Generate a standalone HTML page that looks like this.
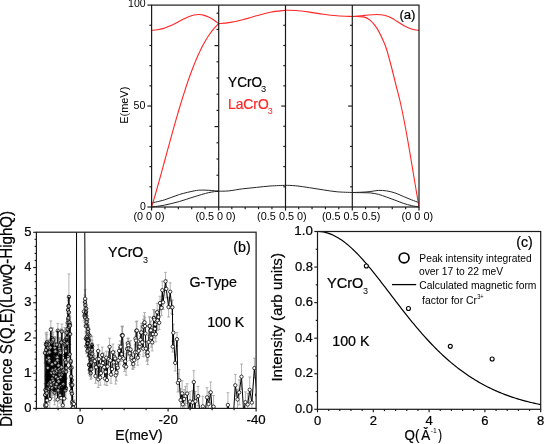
<!DOCTYPE html>
<html><head><meta charset="utf-8"><title>Figure</title>
<style>html,body{margin:0;padding:0;background:#fff;width:544px;height:444px;overflow:hidden}</style>
</head><body>
<svg width="544" height="444" viewBox="0 0 544 444" style="display:block;will-change:transform">
<defs>
<clipPath id="clipA"><rect x="151.6" y="5.1" width="267.40" height="202.90"/></clipPath>
<clipPath id="clipB"><rect x="36.4" y="232.2" width="219.70" height="176.20"/></clipPath>
</defs>
<rect width="544" height="444" fill="#fff"/>
<g font-family='"Liberation Sans", sans-serif' style="font-kerning:none">
<g clip-path="url(#clipA)">
<path d="M151.60,203.00 C153.78,202.47 160.07,201.22 164.70,199.80 C169.33,198.38 174.50,195.98 179.40,194.50 C184.30,193.02 190.42,191.63 194.10,190.90 C197.78,190.17 199.05,190.20 201.50,190.10 C203.95,190.00 205.93,190.12 208.80,190.30 C211.67,190.48 217.05,191.05 218.70,191.20" fill="none" stroke="#262626" stroke-width="1.0" />
<path d="M151.60,207.00 C153.78,206.68 160.07,206.02 164.70,205.10 C169.33,204.18 174.50,202.88 179.40,201.50 C184.30,200.12 189.20,198.28 194.10,196.80 C199.00,195.32 204.70,193.53 208.80,192.60 C212.90,191.67 217.05,191.43 218.70,191.20" fill="none" stroke="#262626" stroke-width="1.0" />
<path d="M218.70,191.20 C220.38,191.15 224.82,191.30 228.80,190.90 C232.78,190.50 238.00,189.38 242.60,188.80 C247.20,188.22 251.80,187.87 256.40,187.40 C261.00,186.93 265.35,186.35 270.20,186.00 C275.05,185.65 282.95,185.42 285.50,185.30" fill="none" stroke="#262626" stroke-width="1.0" />
<path d="M285.50,185.30 C287.22,185.38 291.78,185.40 295.80,185.80 C299.82,186.20 305.00,187.02 309.60,187.70 C314.20,188.38 318.80,189.22 323.40,189.90 C328.00,190.58 332.38,191.37 337.20,191.80 C342.02,192.23 349.78,192.38 352.30,192.50" fill="none" stroke="#262626" stroke-width="1.0" />
<path d="M352.30,192.50 C353.88,192.45 358.83,192.35 361.80,192.20 C364.77,192.05 367.35,191.90 370.10,191.60 C372.85,191.30 375.55,190.52 378.30,190.40 C381.05,190.28 383.83,190.48 386.60,190.90 C389.37,191.32 392.13,191.98 394.90,192.90 C397.67,193.82 400.45,195.25 403.20,196.40 C405.95,197.55 408.77,198.77 411.40,199.80 C414.03,200.83 417.73,202.13 419.00,202.60" fill="none" stroke="#262626" stroke-width="1.0" />
<path d="M352.30,192.50 C353.88,192.53 358.83,192.63 361.80,192.70 C364.77,192.77 367.35,192.63 370.10,192.90 C372.85,193.17 375.55,193.60 378.30,194.30 C381.05,195.00 383.83,196.13 386.60,197.10 C389.37,198.07 392.13,199.07 394.90,200.10 C397.67,201.13 400.45,202.38 403.20,203.30 C405.95,204.22 408.77,204.98 411.40,205.60 C414.03,206.22 417.73,206.77 419.00,207.00" fill="none" stroke="#262626" stroke-width="1.0" />
<path d="M151.80,30.40 C152.67,30.30 155.15,30.10 157.00,29.80 C158.85,29.50 160.90,29.18 162.90,28.60 C164.90,28.02 166.87,27.20 169.00,26.30 C171.13,25.40 173.53,24.28 175.70,23.20 C177.87,22.12 179.85,20.88 182.00,19.80 C184.15,18.72 186.60,17.50 188.60,16.70 C190.60,15.90 192.28,15.37 194.00,15.00 C195.72,14.63 197.32,14.48 198.90,14.50 C200.48,14.52 202.00,14.73 203.50,15.10 C205.00,15.47 206.32,15.97 207.90,16.70 C209.48,17.43 211.20,18.33 213.00,19.50 C214.80,20.67 217.75,23.00 218.70,23.70" fill="none" stroke="#ff2626" stroke-width="1.1" />
<path d="M151.60,207.00 C151.89,206.05 152.75,203.24 153.32,201.32 C153.89,199.40 154.47,197.45 155.04,195.48 C155.61,193.50 156.19,191.50 156.76,189.48 C157.34,187.47 157.91,185.43 158.48,183.38 C159.06,181.32 159.63,179.25 160.20,177.17 C160.78,175.10 161.35,173.00 161.92,170.91 C162.50,168.81 163.07,166.70 163.64,164.59 C164.22,162.48 164.79,160.37 165.36,158.25 C165.94,156.14 166.51,154.02 167.08,151.91 C167.66,149.80 168.23,147.69 168.81,145.59 C169.38,143.49 169.95,141.39 170.53,139.31 C171.10,137.22 171.67,135.14 172.25,133.08 C172.82,131.01 173.39,128.96 173.97,126.92 C174.54,124.88 175.11,122.85 175.69,120.85 C176.26,118.84 176.83,116.85 177.41,114.88 C177.98,112.91 178.55,110.96 179.13,109.03 C179.70,107.10 180.28,105.19 180.85,103.30 C181.42,101.42 182.00,99.56 182.57,97.72 C183.14,95.89 183.72,94.08 184.29,92.30 C184.86,90.51 185.44,88.76 186.01,87.03 C186.58,85.30 187.16,83.60 187.73,81.94 C188.30,80.27 188.88,78.63 189.45,77.02 C190.02,75.41 190.60,73.84 191.17,72.29 C191.75,70.75 192.32,69.24 192.89,67.76 C193.47,66.28 194.04,64.83 194.61,63.42 C195.19,62.00 195.76,60.62 196.33,59.28 C196.91,57.93 197.48,56.62 198.05,55.34 C198.63,54.07 199.20,52.82 199.77,51.61 C200.35,50.40 200.92,49.23 201.49,48.09 C202.07,46.95 202.64,45.85 203.22,44.77 C203.79,43.70 204.36,42.67 204.94,41.66 C205.51,40.66 206.08,39.69 206.66,38.76 C207.23,37.82 207.80,36.92 208.38,36.05 C208.95,35.18 209.52,34.34 210.10,33.54 C210.67,32.73 211.24,31.96 211.82,31.21 C212.39,30.47 212.96,29.76 213.54,29.08 C214.11,28.39 214.69,27.74 215.26,27.12 C215.83,26.49 216.41,25.90 216.98,25.33 C217.55,24.76 218.41,23.97 218.70,23.70" fill="none" stroke="#ff2626" stroke-width="1.1" />
<path d="M218.70,23.70 C220.38,23.52 224.82,23.27 228.80,22.60 C232.78,21.93 238.00,20.83 242.60,19.70 C247.20,18.57 251.80,17.05 256.40,15.80 C261.00,14.55 265.35,13.12 270.20,12.20 C275.05,11.28 282.95,10.62 285.50,10.30" fill="none" stroke="#ff2626" stroke-width="1.1" />
<path d="M285.50,10.30 C287.22,10.33 291.78,10.20 295.80,10.50 C299.82,10.80 305.00,11.48 309.60,12.10 C314.20,12.72 318.80,13.60 323.40,14.20 C328.00,14.80 332.38,15.32 337.20,15.70 C342.02,16.08 349.78,16.37 352.30,16.50" fill="none" stroke="#ff2626" stroke-width="1.1" />
<path d="M352.30,16.50 C353.87,16.37 359.08,15.95 361.70,15.70 C364.32,15.45 365.45,15.20 368.00,15.00 C370.55,14.80 374.30,14.47 377.00,14.50 C379.70,14.53 382.10,14.78 384.20,15.20 C386.30,15.62 387.87,16.22 389.60,17.00 C391.33,17.78 392.18,18.43 394.60,19.90 C397.02,21.37 401.17,24.25 404.10,25.80 C407.03,27.35 409.72,28.43 412.20,29.20 C414.68,29.97 417.87,30.20 419.00,30.40" fill="none" stroke="#ff2626" stroke-width="1.1" />
<path d="M352.30,16.50 C354.17,16.57 360.50,16.27 363.50,16.90 C366.50,17.53 368.05,18.38 370.30,20.30 C372.55,22.22 374.75,24.80 377.00,28.40 C379.25,32.00 382.17,38.30 383.80,41.90 C385.43,45.50 385.48,45.65 386.80,50.00 C388.12,54.35 390.13,62.00 391.70,68.00 C393.27,74.00 394.70,80.00 396.20,86.00 C397.70,92.00 399.08,96.67 400.70,104.00 C402.32,111.33 404.25,121.17 405.90,130.00 C407.55,138.83 409.07,148.00 410.60,157.00 C412.13,166.00 413.70,175.70 415.10,184.00 C416.50,192.30 418.35,203.00 419.00,206.80" fill="none" stroke="#ff2626" stroke-width="1.1" />
</g>
<rect x="151.6" y="5.1" width="267.40" height="201.90" fill="none" stroke="#1a1a1a" stroke-width="1.2"/>
<line x1="218.70" y1="5.10" x2="218.70" y2="210.60" stroke="#1a1a1a" stroke-width="1.2"/>
<line x1="285.50" y1="5.10" x2="285.50" y2="210.60" stroke="#1a1a1a" stroke-width="1.2"/>
<line x1="352.30" y1="5.10" x2="352.30" y2="210.60" stroke="#1a1a1a" stroke-width="1.2"/>
<line x1="151.60" y1="207.00" x2="151.60" y2="210.60" stroke="#1a1a1a" stroke-width="1.2"/>
<line x1="419.00" y1="207.00" x2="419.00" y2="210.60" stroke="#1a1a1a" stroke-width="1.2"/>
<line x1="147.40" y1="207.00" x2="151.60" y2="207.00" stroke="#1a1a1a" stroke-width="1.15"/>
<line x1="149.40" y1="186.81" x2="151.60" y2="186.81" stroke="#1a1a1a" stroke-width="1.15"/>
<line x1="149.40" y1="166.62" x2="151.60" y2="166.62" stroke="#1a1a1a" stroke-width="1.15"/>
<line x1="149.40" y1="146.43" x2="151.60" y2="146.43" stroke="#1a1a1a" stroke-width="1.15"/>
<line x1="149.40" y1="126.24" x2="151.60" y2="126.24" stroke="#1a1a1a" stroke-width="1.15"/>
<line x1="147.40" y1="106.05" x2="151.60" y2="106.05" stroke="#1a1a1a" stroke-width="1.15"/>
<line x1="149.40" y1="85.86" x2="151.60" y2="85.86" stroke="#1a1a1a" stroke-width="1.15"/>
<line x1="149.40" y1="65.67" x2="151.60" y2="65.67" stroke="#1a1a1a" stroke-width="1.15"/>
<line x1="149.40" y1="45.48" x2="151.60" y2="45.48" stroke="#1a1a1a" stroke-width="1.15"/>
<line x1="149.40" y1="25.29" x2="151.60" y2="25.29" stroke="#1a1a1a" stroke-width="1.15"/>
<line x1="147.40" y1="5.10" x2="151.60" y2="5.10" stroke="#1a1a1a" stroke-width="1.15"/>
<line x1="283.30" y1="186.81" x2="285.50" y2="186.81" stroke="#1a1a1a" stroke-width="1.15"/>
<line x1="283.30" y1="166.62" x2="285.50" y2="166.62" stroke="#1a1a1a" stroke-width="1.15"/>
<line x1="283.30" y1="146.43" x2="285.50" y2="146.43" stroke="#1a1a1a" stroke-width="1.15"/>
<line x1="283.30" y1="126.24" x2="285.50" y2="126.24" stroke="#1a1a1a" stroke-width="1.15"/>
<line x1="281.30" y1="106.05" x2="285.50" y2="106.05" stroke="#1a1a1a" stroke-width="1.15"/>
<line x1="283.30" y1="85.86" x2="285.50" y2="85.86" stroke="#1a1a1a" stroke-width="1.15"/>
<line x1="283.30" y1="65.67" x2="285.50" y2="65.67" stroke="#1a1a1a" stroke-width="1.15"/>
<line x1="283.30" y1="45.48" x2="285.50" y2="45.48" stroke="#1a1a1a" stroke-width="1.15"/>
<line x1="283.30" y1="25.29" x2="285.50" y2="25.29" stroke="#1a1a1a" stroke-width="1.15"/>
<line x1="350.10" y1="186.81" x2="352.30" y2="186.81" stroke="#1a1a1a" stroke-width="1.15"/>
<line x1="350.10" y1="166.62" x2="352.30" y2="166.62" stroke="#1a1a1a" stroke-width="1.15"/>
<line x1="350.10" y1="146.43" x2="352.30" y2="146.43" stroke="#1a1a1a" stroke-width="1.15"/>
<line x1="350.10" y1="126.24" x2="352.30" y2="126.24" stroke="#1a1a1a" stroke-width="1.15"/>
<line x1="348.10" y1="106.05" x2="352.30" y2="106.05" stroke="#1a1a1a" stroke-width="1.15"/>
<line x1="350.10" y1="85.86" x2="352.30" y2="85.86" stroke="#1a1a1a" stroke-width="1.15"/>
<line x1="350.10" y1="65.67" x2="352.30" y2="65.67" stroke="#1a1a1a" stroke-width="1.15"/>
<line x1="350.10" y1="45.48" x2="352.30" y2="45.48" stroke="#1a1a1a" stroke-width="1.15"/>
<line x1="350.10" y1="25.29" x2="352.30" y2="25.29" stroke="#1a1a1a" stroke-width="1.15"/>
<line x1="216.50" y1="13.20" x2="218.70" y2="13.20" stroke="#1a1a1a" stroke-width="1.15"/>
<line x1="216.50" y1="29.40" x2="218.70" y2="29.40" stroke="#1a1a1a" stroke-width="1.15"/>
<line x1="214.50" y1="45.60" x2="218.70" y2="45.60" stroke="#1a1a1a" stroke-width="1.15"/>
<line x1="216.50" y1="61.80" x2="218.70" y2="61.80" stroke="#1a1a1a" stroke-width="1.15"/>
<line x1="216.50" y1="78.00" x2="218.70" y2="78.00" stroke="#1a1a1a" stroke-width="1.15"/>
<line x1="216.50" y1="94.20" x2="218.70" y2="94.20" stroke="#1a1a1a" stroke-width="1.15"/>
<line x1="216.50" y1="110.40" x2="218.70" y2="110.40" stroke="#1a1a1a" stroke-width="1.15"/>
<line x1="214.50" y1="126.60" x2="218.70" y2="126.60" stroke="#1a1a1a" stroke-width="1.15"/>
<line x1="216.50" y1="142.80" x2="218.70" y2="142.80" stroke="#1a1a1a" stroke-width="1.15"/>
<line x1="216.50" y1="159.00" x2="218.70" y2="159.00" stroke="#1a1a1a" stroke-width="1.15"/>
<line x1="216.50" y1="175.20" x2="218.70" y2="175.20" stroke="#1a1a1a" stroke-width="1.15"/>
<line x1="216.50" y1="191.40" x2="218.70" y2="191.40" stroke="#1a1a1a" stroke-width="1.15"/>
<line x1="164.97" y1="207.00" x2="164.97" y2="209.20" stroke="#1a1a1a" stroke-width="1.15"/>
<line x1="178.34" y1="207.00" x2="178.34" y2="209.20" stroke="#1a1a1a" stroke-width="1.15"/>
<line x1="191.71" y1="207.00" x2="191.71" y2="209.20" stroke="#1a1a1a" stroke-width="1.15"/>
<line x1="205.08" y1="207.00" x2="205.08" y2="209.20" stroke="#1a1a1a" stroke-width="1.15"/>
<line x1="231.82" y1="207.00" x2="231.82" y2="209.20" stroke="#1a1a1a" stroke-width="1.15"/>
<line x1="245.19" y1="207.00" x2="245.19" y2="209.20" stroke="#1a1a1a" stroke-width="1.15"/>
<line x1="258.56" y1="207.00" x2="258.56" y2="209.20" stroke="#1a1a1a" stroke-width="1.15"/>
<line x1="271.93" y1="207.00" x2="271.93" y2="209.20" stroke="#1a1a1a" stroke-width="1.15"/>
<line x1="298.67" y1="207.00" x2="298.67" y2="209.20" stroke="#1a1a1a" stroke-width="1.15"/>
<line x1="312.04" y1="207.00" x2="312.04" y2="209.20" stroke="#1a1a1a" stroke-width="1.15"/>
<line x1="325.41" y1="207.00" x2="325.41" y2="209.20" stroke="#1a1a1a" stroke-width="1.15"/>
<line x1="338.78" y1="207.00" x2="338.78" y2="209.20" stroke="#1a1a1a" stroke-width="1.15"/>
<line x1="365.52" y1="207.00" x2="365.52" y2="209.20" stroke="#1a1a1a" stroke-width="1.15"/>
<line x1="378.89" y1="207.00" x2="378.89" y2="209.20" stroke="#1a1a1a" stroke-width="1.15"/>
<line x1="392.26" y1="207.00" x2="392.26" y2="209.20" stroke="#1a1a1a" stroke-width="1.15"/>
<line x1="405.63" y1="207.00" x2="405.63" y2="209.20" stroke="#1a1a1a" stroke-width="1.15"/>
<text x="128.10" y="7.40" font-size="10.8" textLength="17.62" lengthAdjust="spacingAndGlyphs" fill="#000" >100</text>
<text x="133.47" y="109.00" font-size="10.8" textLength="11.84" lengthAdjust="spacingAndGlyphs" fill="#000" >50</text>
<text x="139.89" y="209.50" font-size="10.8" textLength="5.82" lengthAdjust="spacingAndGlyphs" fill="#000" >0</text>
<text transform="translate(128.20,123.80) rotate(-90)" x="0" y="0" font-size="10.8" textLength="37.08" lengthAdjust="spacingAndGlyphs" fill="#000" >E(meV)</text>
<text x="133.53" y="219.80" font-size="10.4" textLength="31.14" lengthAdjust="spacingAndGlyphs" fill="#000" >(0 0 0)</text>
<text x="195.43" y="219.80" font-size="10.4" textLength="40.24" lengthAdjust="spacingAndGlyphs" fill="#000" >(0.5 0 0)</text>
<text x="257.12" y="219.80" font-size="10.4" textLength="49.65" lengthAdjust="spacingAndGlyphs" fill="#000" >(0.5 0.5 0)</text>
<text x="321.93" y="219.80" font-size="10.4" textLength="58.44" lengthAdjust="spacingAndGlyphs" fill="#000" >(0.5 0.5 0.5)</text>
<text x="401.62" y="219.80" font-size="10.4" textLength="31.55" lengthAdjust="spacingAndGlyphs" fill="#000" >(0 0 0)</text>
<text x="228.10" y="86.80" font-size="14" textLength="33.95" lengthAdjust="spacingAndGlyphs" fill="#000" stroke="#000" stroke-width="0.22" >YCrO</text>
<text x="261.05" y="92.20" font-size="9" textLength="5.16" lengthAdjust="spacingAndGlyphs" fill="#000" >3</text>
<text x="227.96" y="108.80" font-size="14" textLength="40.80" lengthAdjust="spacingAndGlyphs" fill="#ff2626" stroke="#ff2626" stroke-width="0.22" >LaCrO</text>
<text x="267.75" y="113.60" font-size="9" textLength="5.04" lengthAdjust="spacingAndGlyphs" fill="#ff2626" >3</text>
<text x="399.38" y="18.60" font-size="13.5" textLength="16.14" lengthAdjust="spacingAndGlyphs" fill="#000" stroke="#000" stroke-width="0.22" >(a)</text>
<g clip-path="url(#clipB)">
<path d="M44.90,342.64V363.16M43.50,342.64h2.8M43.50,363.16h2.8M45.07,383.51V406.33M43.67,383.51h2.8M43.67,406.33h2.8M45.24,391.90V417.23M43.84,391.90h2.8M43.84,417.23h2.8M45.41,376.15V403.66M44.01,376.15h2.8M44.01,403.66h2.8M45.58,395.60V416.99M44.18,395.60h2.8M44.18,416.99h2.8M45.75,395.70V416.20M44.35,395.70h2.8M44.35,416.20h2.8M45.92,332.96V355.92M44.52,332.96h2.8M44.52,355.92h2.8M46.09,340.88V358.77M44.69,340.88h2.8M44.69,358.77h2.8M46.26,378.90V402.81M44.86,378.90h2.8M44.86,402.81h2.8M46.43,392.67V417.40M45.03,392.67h2.8M45.03,417.40h2.8M46.60,334.61V354.02M45.20,334.61h2.8M45.20,354.02h2.8M46.77,386.21V400.21M45.37,386.21h2.8M45.37,400.21h2.8M46.94,332.12V352.70M45.54,332.12h2.8M45.54,352.70h2.8M47.11,392.83V407.85M45.71,392.83h2.8M45.71,407.85h2.8M47.28,365.45V383.23M45.88,365.45h2.8M45.88,383.23h2.8M47.45,345.95V373.45M46.05,345.95h2.8M46.05,373.45h2.8M47.62,379.57V397.02M46.22,379.57h2.8M46.22,397.02h2.8M47.79,355.29V380.44M46.39,355.29h2.8M46.39,380.44h2.8M47.96,342.78V363.05M46.56,342.78h2.8M46.56,363.05h2.8M48.13,339.83V355.66M46.73,339.83h2.8M46.73,355.66h2.8M48.30,378.38V398.27M46.90,378.38h2.8M46.90,398.27h2.8M48.47,347.78V375.38M47.07,347.78h2.8M47.07,375.38h2.8M48.64,371.17V397.56M47.24,371.17h2.8M47.24,397.56h2.8M48.81,344.87V370.84M47.41,344.87h2.8M47.41,370.84h2.8M48.98,374.74V402.59M47.58,374.74h2.8M47.58,402.59h2.8M49.15,349.52V374.33M47.75,349.52h2.8M47.75,374.33h2.8M49.32,353.27V368.30M47.92,353.27h2.8M47.92,368.30h2.8M49.49,343.51V360.91M48.09,343.51h2.8M48.09,360.91h2.8M49.66,372.76V393.11M48.26,372.76h2.8M48.26,393.11h2.8M49.83,387.95V409.99M48.43,387.95h2.8M48.43,409.99h2.8M50.00,378.85V395.01M48.60,378.85h2.8M48.60,395.01h2.8M50.17,364.76V382.25M48.77,364.76h2.8M48.77,382.25h2.8M50.34,333.94V361.10M48.94,333.94h2.8M48.94,361.10h2.8M50.51,328.04V354.39M49.11,328.04h2.8M49.11,354.39h2.8M50.68,374.16V389.61M49.28,374.16h2.8M49.28,389.61h2.8M50.85,320.95V338.28M49.45,320.95h2.8M49.45,338.28h2.8M51.02,372.59V398.13M49.62,372.59h2.8M49.62,398.13h2.8M51.19,376.36V392.82M49.79,376.36h2.8M49.79,392.82h2.8M51.36,380.74V397.94M49.96,380.74h2.8M49.96,397.94h2.8M51.53,361.48V384.08M50.13,361.48h2.8M50.13,384.08h2.8M51.70,333.77V350.62M50.30,333.77h2.8M50.30,350.62h2.8M51.87,328.04V348.28M50.47,328.04h2.8M50.47,348.28h2.8M52.04,354.80V373.96M50.64,354.80h2.8M50.64,373.96h2.8M52.21,378.47V397.54M50.81,378.47h2.8M50.81,397.54h2.8M52.38,358.47V381.67M50.98,358.47h2.8M50.98,381.67h2.8M52.55,370.46V386.42M51.15,370.46h2.8M51.15,386.42h2.8M52.72,327.89V354.63M51.32,327.89h2.8M51.32,354.63h2.8M52.89,363.30V377.59M51.49,363.30h2.8M51.49,377.59h2.8M53.06,368.49V392.71M51.66,368.49h2.8M51.66,392.71h2.8M53.23,332.21V347.27M51.83,332.21h2.8M51.83,347.27h2.8M53.40,361.91V388.52M52.00,361.91h2.8M52.00,388.52h2.8M53.57,363.37V388.47M52.17,363.37h2.8M52.17,388.47h2.8M53.74,371.56V395.15M52.34,371.56h2.8M52.34,395.15h2.8M53.91,362.46V382.30M52.51,362.46h2.8M52.51,382.30h2.8M54.08,361.53V383.55M52.68,361.53h2.8M52.68,383.55h2.8M54.25,371.63V393.79M52.85,371.63h2.8M52.85,393.79h2.8M54.42,377.62V400.57M53.02,377.62h2.8M53.02,400.57h2.8M54.59,380.60V404.79M53.19,380.60h2.8M53.19,404.79h2.8M54.76,336.59V358.72M53.36,336.59h2.8M53.36,358.72h2.8M54.93,336.97V352.15M53.53,336.97h2.8M53.53,352.15h2.8M55.10,378.95V401.37M53.70,378.95h2.8M53.70,401.37h2.8M55.27,350.88V374.65M53.87,350.88h2.8M53.87,374.65h2.8M55.44,337.82V364.70M54.04,337.82h2.8M54.04,364.70h2.8M55.61,360.21V378.43M54.21,360.21h2.8M54.21,378.43h2.8M55.78,378.32V394.70M54.38,378.32h2.8M54.38,394.70h2.8M55.95,366.75V386.94M54.55,366.75h2.8M54.55,386.94h2.8M56.12,372.22V395.54M54.72,372.22h2.8M54.72,395.54h2.8M56.29,344.12V369.40M54.89,344.12h2.8M54.89,369.40h2.8M56.46,362.50V381.88M55.06,362.50h2.8M55.06,381.88h2.8M56.63,376.15V392.06M55.23,376.15h2.8M55.23,392.06h2.8M56.80,331.66V357.54M55.40,331.66h2.8M55.40,357.54h2.8M56.97,361.78V379.65M55.57,361.78h2.8M55.57,379.65h2.8M57.14,347.24V365.09M55.74,347.24h2.8M55.74,365.09h2.8M57.31,345.88V368.64M55.91,345.88h2.8M55.91,368.64h2.8M57.48,347.34V373.09M56.08,347.34h2.8M56.08,373.09h2.8M57.65,391.94V406.99M56.25,391.94h2.8M56.25,406.99h2.8M57.82,323.43V338.01M56.42,323.43h2.8M56.42,338.01h2.8M57.99,369.57V387.90M56.59,369.57h2.8M56.59,387.90h2.8M58.16,382.43V398.34M56.76,382.43h2.8M56.76,398.34h2.8M58.33,356.11V381.73M56.93,356.11h2.8M56.93,381.73h2.8M58.50,358.11V372.77M57.10,358.11h2.8M57.10,372.77h2.8M58.67,369.95V392.76M57.27,369.95h2.8M57.27,392.76h2.8M58.84,360.02V387.44M57.44,360.02h2.8M57.44,387.44h2.8M59.01,376.25V396.90M57.61,376.25h2.8M57.61,396.90h2.8M59.18,359.03V379.64M57.78,359.03h2.8M57.78,379.64h2.8M59.35,378.10V395.91M57.95,378.10h2.8M57.95,395.91h2.8M59.52,338.14V359.43M58.12,338.14h2.8M58.12,359.43h2.8M59.69,365.06V384.56M58.29,365.06h2.8M58.29,384.56h2.8M59.86,364.03V379.25M58.46,364.03h2.8M58.46,379.25h2.8M60.03,387.28V403.10M58.63,387.28h2.8M58.63,403.10h2.8M60.20,337.56V364.30M58.80,337.56h2.8M58.80,364.30h2.8M60.37,339.47V365.78M58.97,339.47h2.8M58.97,365.78h2.8M60.54,360.59V381.08M59.14,360.59h2.8M59.14,381.08h2.8M60.71,374.41V398.51M59.31,374.41h2.8M59.31,398.51h2.8M60.88,365.21V389.25M59.48,365.21h2.8M59.48,389.25h2.8M61.05,328.85V356.58M59.65,328.85h2.8M59.65,356.58h2.8M61.22,385.59V410.66M59.82,385.59h2.8M59.82,410.66h2.8M61.39,329.43V355.41M59.99,329.43h2.8M59.99,355.41h2.8M61.56,357.09V377.27M60.16,357.09h2.8M60.16,377.27h2.8M61.73,364.14V384.97M60.33,364.14h2.8M60.33,384.97h2.8M61.90,324.06V338.96M60.50,324.06h2.8M60.50,338.96h2.8M62.07,377.79V396.48M60.67,377.79h2.8M60.67,396.48h2.8M62.24,379.78V395.86M60.84,379.78h2.8M60.84,395.86h2.8M62.41,362.62V388.38M61.01,362.62h2.8M61.01,388.38h2.8M62.58,360.36V381.25M61.18,360.36h2.8M61.18,381.25h2.8M62.75,396.73V413.83M61.35,396.73h2.8M61.35,413.83h2.8M62.92,372.56V396.76M61.52,372.56h2.8M61.52,396.76h2.8M63.09,366.84V392.65M61.69,366.84h2.8M61.69,392.65h2.8M63.26,374.53V393.87M61.86,374.53h2.8M61.86,393.87h2.8M63.43,363.30V380.22M62.03,363.30h2.8M62.03,380.22h2.8M63.60,359.66V380.99M62.20,359.66h2.8M62.20,380.99h2.8M63.77,375.79V397.29M62.37,375.79h2.8M62.37,397.29h2.8M63.94,370.81V385.19M62.54,370.81h2.8M62.54,385.19h2.8M64.11,388.66V408.26M62.71,388.66h2.8M62.71,408.26h2.8M64.28,368.46V389.33M62.88,368.46h2.8M62.88,389.33h2.8M64.45,378.63V400.17M63.05,378.63h2.8M63.05,400.17h2.8M64.62,327.55V354.48M63.22,327.55h2.8M63.22,354.48h2.8M64.79,347.60V363.38M63.39,347.60h2.8M63.39,363.38h2.8M64.96,331.93V358.54M63.56,331.93h2.8M63.56,358.54h2.8M65.13,351.82V368.50M63.73,351.82h2.8M63.73,368.50h2.8M65.30,363.33V379.14M63.90,363.33h2.8M63.90,379.14h2.8M65.47,381.95V398.67M64.07,381.95h2.8M64.07,398.67h2.8M65.50,335.73V352.10M64.10,335.73h2.8M64.10,352.10h2.8M65.64,339.84V358.34M64.24,339.84h2.8M64.24,358.34h2.8M65.68,341.78V357.91M64.28,341.78h2.8M64.28,357.91h2.8M65.81,343.37V358.84M64.41,343.37h2.8M64.41,358.84h2.8M65.86,330.05V348.37M64.46,330.05h2.8M64.46,348.37h2.8M65.98,377.62V398.77M64.58,377.62h2.8M64.58,398.77h2.8M66.04,352.16V372.68M64.64,352.16h2.8M64.64,372.68h2.8M66.22,364.60V378.93M64.82,364.60h2.8M64.82,378.93h2.8M66.40,357.45V378.48M65.00,357.45h2.8M65.00,378.48h2.8M66.58,325.13V340.28M65.18,325.13h2.8M65.18,340.28h2.8M66.76,331.76V353.75M65.36,331.76h2.8M65.36,353.75h2.8M66.94,330.42V344.81M65.54,330.42h2.8M65.54,344.81h2.8M67.12,333.38V346.35M65.72,333.38h2.8M65.72,346.35h2.8M67.30,333.45V353.35M65.90,333.45h2.8M65.90,353.35h2.8M67.48,322.88V335.06M66.08,322.88h2.8M66.08,335.06h2.8M67.66,313.44V332.26M66.26,313.44h2.8M66.26,332.26h2.8M67.84,349.56V362.71M66.44,349.56h2.8M66.44,362.71h2.8M68.02,300.50V319.36M66.62,300.50h2.8M66.62,319.36h2.8M68.20,313.24V325.94M66.80,313.24h2.8M66.80,325.94h2.8M68.38,309.38V326.53M66.98,309.38h2.8M66.98,326.53h2.8M68.56,299.16V312.62M67.16,299.16h2.8M67.16,312.62h2.8M68.74,295.42V317.33M67.34,295.42h2.8M67.34,317.33h2.8M68.90,274.00V320.00M67.50,274.00h2.8M67.50,320.00h2.8M68.92,306.03V318.65M67.52,306.03h2.8M67.52,318.65h2.8M69.10,317.07V336.72M67.70,317.07h2.8M67.70,336.72h2.8M69.28,315.79V332.46M67.88,315.79h2.8M67.88,332.46h2.8M69.46,316.31V328.44M68.06,316.31h2.8M68.06,328.44h2.8M69.64,347.49V361.30M68.24,347.49h2.8M68.24,361.30h2.8M69.82,315.17V334.56M68.42,315.17h2.8M68.42,334.56h2.8M70.00,317.04V334.16M68.60,317.04h2.8M68.60,334.16h2.8M70.18,323.64V344.57M68.78,323.64h2.8M68.78,344.57h2.8M70.36,357.89V378.50M68.96,357.89h2.8M68.96,378.50h2.8M70.54,353.31V371.30M69.14,353.31h2.8M69.14,371.30h2.8M70.72,353.87V368.45M69.32,353.87h2.8M69.32,368.45h2.8M70.90,373.74V393.52M69.50,373.74h2.8M69.50,393.52h2.8M71.08,365.90V386.86M69.68,365.90h2.8M69.68,386.86h2.8M71.26,381.41V401.08M69.86,381.41h2.8M69.86,401.08h2.8M71.44,376.13V395.36M70.04,376.13h2.8M70.04,395.36h2.8M71.62,359.93V375.35M70.22,359.93h2.8M70.22,375.35h2.8M71.80,370.94V389.32M70.40,370.94h2.8M70.40,389.32h2.8M71.98,382.94V404.39M70.58,382.94h2.8M70.58,404.39h2.8M72.16,392.77V411.37M70.76,392.77h2.8M70.76,411.37h2.8M72.34,376.28V393.61M70.94,376.28h2.8M70.94,393.61h2.8M72.52,394.61V413.62M71.12,394.61h2.8M71.12,413.62h2.8M72.70,401.58V413.81M71.30,401.58h2.8M71.30,413.81h2.8M72.88,400.41V414.98M71.48,400.41h2.8M71.48,414.98h2.8M73.06,396.76V409.26M71.66,396.76h2.8M71.66,409.26h2.8M73.24,400.44V414.95M71.84,400.44h2.8M71.84,414.95h2.8M73.90,400.00V408.00M72.50,400.00h2.8M72.50,408.00h2.8M85.10,289.80V307.80M83.70,289.80h2.8M83.70,307.80h2.8M85.00,294.99V308.90M83.60,294.99h2.8M83.60,308.90h2.8M85.40,298.71V311.62M84.00,298.71h2.8M84.00,311.62h2.8M86.20,299.03V318.17M84.80,299.03h2.8M84.80,318.17h2.8M83.90,302.46V320.74M82.50,302.46h2.8M82.50,320.74h2.8M86.00,303.38V320.38M84.60,303.38h2.8M84.60,320.38h2.8M85.60,305.91V320.78M84.20,305.91h2.8M84.20,320.78h2.8M84.60,308.39V322.56M83.20,308.39h2.8M83.20,322.56h2.8M86.20,307.29V324.77M84.80,307.29h2.8M84.80,324.77h2.8M84.80,308.30V324.82M83.40,308.30h2.8M83.40,324.82h2.8M85.20,309.16V325.90M83.80,309.16h2.8M83.80,325.90h2.8M87.00,310.97V328.03M85.60,310.97h2.8M85.60,328.03h2.8M86.60,313.13V331.16M85.20,313.13h2.8M85.20,331.16h2.8M87.20,319.30V332.81M85.80,319.30h2.8M85.80,332.81h2.8M85.90,319.30V333.30M84.50,319.30h2.8M84.50,333.30h2.8M88.10,318.98V338.82M86.70,318.98h2.8M86.70,338.82h2.8M87.80,322.34V341.66M86.40,322.34h2.8M86.40,341.66h2.8M88.40,324.98V344.01M87.00,324.98h2.8M87.00,344.01h2.8M89.60,329.44V341.76M88.20,329.44h2.8M88.20,341.76h2.8M86.80,330.46V342.94M85.40,330.46h2.8M85.40,342.94h2.8M85.80,331.59V345.76M84.40,331.59h2.8M84.40,345.76h2.8M86.80,331.71V347.11M85.40,331.71h2.8M85.40,347.11h2.8M88.85,331.06V348.04M87.45,331.06h2.8M87.45,348.04h2.8M87.00,333.49V346.31M85.60,333.49h2.8M85.60,346.31h2.8M88.00,333.00V347.34M86.60,333.00h2.8M86.60,347.34h2.8M88.60,335.43V346.01M87.20,335.43h2.8M87.20,346.01h2.8M87.40,338.15V348.85M86.00,338.15h2.8M86.00,348.85h2.8M87.60,335.93V351.34M86.20,335.93h2.8M86.20,351.34h2.8M86.40,338.97V353.37M85.00,338.97h2.8M85.00,353.37h2.8M88.80,340.96V356.01M87.40,340.96h2.8M87.40,356.01h2.8M88.20,343.01V356.00M86.80,343.01h2.8M86.80,356.00h2.8M89.20,342.72V356.54M87.80,342.72h2.8M87.80,356.54h2.8M87.40,345.06V356.75M86.00,345.06h2.8M86.00,356.75h2.8M89.40,349.40V362.15M88.00,349.40h2.8M88.00,362.15h2.8M89.60,356.52V372.48M88.20,356.52h2.8M88.20,372.48h2.8M89.00,356.55V373.26M87.60,356.55h2.8M87.60,373.26h2.8M89.80,364.70V375.29M88.40,364.70h2.8M88.40,375.29h2.8M90.00,350.06V361.02M88.60,350.06h2.8M88.60,361.02h2.8M90.10,347.46V363.94M88.70,347.46h2.8M88.70,363.94h2.8M90.20,361.43V376.42M88.80,361.43h2.8M88.80,376.42h2.8M90.40,351.30V367.45M89.00,351.30h2.8M89.00,367.45h2.8M90.60,346.89V358.60M89.20,346.89h2.8M89.20,358.60h2.8M90.70,357.10V370.50M89.30,357.10h2.8M89.30,370.50h2.8M90.70,367.17V379.23M89.30,367.17h2.8M89.30,379.23h2.8M90.80,351.70V368.18M89.40,351.70h2.8M89.40,368.18h2.8M91.00,360.03V372.98M89.60,360.03h2.8M89.60,372.98h2.8M91.20,349.15V364.38M89.80,349.15h2.8M89.80,364.38h2.8M91.40,360.24V378.16M90.00,360.24h2.8M90.00,378.16h2.8M91.40,355.99V368.59M90.00,355.99h2.8M90.00,368.59h2.8M91.60,344.08V358.47M90.20,344.08h2.8M90.20,358.47h2.8M91.80,351.44V367.41M90.40,351.44h2.8M90.40,367.41h2.8M92.00,336.24V353.60M90.60,336.24h2.8M90.60,353.60h2.8M92.10,342.89V356.31M90.70,342.89h2.8M90.70,356.31h2.8M92.20,340.14V353.10M90.80,340.14h2.8M90.80,353.10h2.8M92.40,348.40V359.18M91.00,348.40h2.8M91.00,359.18h2.8M92.80,350.50V367.50M91.40,350.50h2.8M91.40,367.50h2.8M93.80,355.64V366.27M92.40,355.64h2.8M92.40,366.27h2.8M94.80,355.77V366.43M93.40,355.77h2.8M93.40,366.43h2.8M95.50,368.74V383.26M94.10,368.74h2.8M94.10,383.26h2.8M96.10,360.26V374.14M94.70,360.26h2.8M94.70,374.14h2.8M97.15,351.50V366.98M95.75,351.50h2.8M95.75,366.98h2.8M98.20,344.80V357.20M96.80,344.80h2.8M96.80,357.20h2.8M98.20,371.20V387.40M96.80,371.20h2.8M96.80,387.40h2.8M98.80,353.70V364.30M97.40,353.70h2.8M97.40,364.30h2.8M99.50,359.25V370.95M98.10,359.25h2.8M98.10,370.95h2.8M100.20,369.91V385.21M98.80,369.91h2.8M98.80,385.21h2.8M100.90,367.87V378.53M99.50,367.87h2.8M99.50,378.53h2.8M101.55,359.11V371.54M100.15,359.11h2.8M100.15,371.54h2.8M102.20,347.10V362.90M100.80,347.10h2.8M100.80,362.90h2.8M102.90,355.32V370.88M101.50,355.32h2.8M101.50,370.88h2.8M103.60,352.87V365.13M102.20,352.87h2.8M102.20,365.13h2.8M104.20,361.63V372.77M102.80,361.63h2.8M102.80,372.77h2.8M104.90,372.03V384.89M103.50,372.03h2.8M103.50,384.89h2.8M105.60,364.00V379.80M104.20,364.00h2.8M104.20,379.80h2.8M106.30,351.23V364.17M104.90,351.23h2.8M104.90,364.17h2.8M106.90,374.53V385.47M105.50,374.53h2.8M105.50,385.47h2.8M107.60,358.66V374.34M106.20,358.66h2.8M106.20,374.34h2.8M108.60,351.91V366.46M107.20,351.91h2.8M107.20,366.46h2.8M109.60,338.23V355.57M108.20,338.23h2.8M108.20,355.57h2.8M110.30,351.64V369.16M108.90,351.64h2.8M108.90,369.16h2.8M111.00,365.95V383.25M109.60,365.95h2.8M109.60,383.25h2.8M112.00,362.27V375.77M110.60,362.27h2.8M110.60,375.77h2.8M113.00,344.09V360.51M111.60,344.09h2.8M111.60,360.51h2.8M113.70,356.18V368.62M112.30,356.18h2.8M112.30,368.62h2.8M114.40,350.73V363.27M113.00,350.73h2.8M113.00,363.27h2.8M115.05,351.92V365.12M113.65,351.92h2.8M113.65,365.12h2.8M115.70,366.56V384.04M114.30,366.56h2.8M114.30,384.04h2.8M116.40,363.73V380.88M115.00,363.73h2.8M115.00,380.88h2.8M117.10,359.81V371.79M115.70,359.81h2.8M115.70,371.79h2.8M117.75,361.32V374.21M116.35,361.32h2.8M116.35,374.21h2.8M118.40,353.94V366.86M117.00,353.94h2.8M117.00,366.86h2.8M119.10,344.41V357.32M117.70,344.41h2.8M117.70,357.32h2.8M119.80,351.12V364.28M118.40,351.12h2.8M118.40,364.28h2.8M120.50,341.05V354.15M119.10,341.05h2.8M119.10,354.15h2.8M120.70,341.02V352.58M119.30,341.02h2.8M119.30,352.58h2.8M121.60,346.84V361.36M120.20,346.84h2.8M120.20,361.36h2.8M121.80,326.21V344.59M120.40,326.21h2.8M120.40,344.59h2.8M122.50,326.94V343.26M121.10,326.94h2.8M121.10,343.26h2.8M122.60,326.25V344.95M121.20,326.25h2.8M121.20,344.95h2.8M123.55,351.19V365.69M122.15,351.19h2.8M122.15,365.69h2.8M124.50,360.09V371.51M123.10,360.09h2.8M123.10,371.51h2.8M125.20,353.26V369.34M123.80,353.26h2.8M123.80,369.34h2.8M126.10,358.18V375.22M124.70,358.18h2.8M124.70,375.22h2.8M127.00,342.70V354.95M125.60,342.70h2.8M125.60,354.95h2.8M127.90,338.11V348.29M126.50,338.11h2.8M126.50,348.29h2.8M128.35,338.33V352.45M126.95,338.33h2.8M126.95,352.45h2.8M128.80,341.42V355.78M127.40,341.42h2.8M127.40,355.78h2.8M129.70,345.93V360.47M128.30,345.93h2.8M128.30,360.47h2.8M130.60,340.63V358.36M129.20,340.63h2.8M129.20,358.36h2.8M131.50,350.10V365.30M130.10,350.10h2.8M130.10,365.30h2.8M132.40,352.55V368.99M131.00,352.55h2.8M131.00,368.99h2.8M133.30,358.74V369.26M131.90,358.74h2.8M131.90,369.26h2.8M134.20,352.96V367.34M132.80,352.96h2.8M132.80,367.34h2.8M135.10,344.15V360.45M133.70,344.15h2.8M133.70,360.45h2.8M135.55,332.12V344.79M134.15,332.12h2.8M134.15,344.79h2.8M136.00,335.17V345.83M134.60,335.17h2.8M134.60,345.83h2.8M136.30,321.75V339.65M134.90,321.75h2.8M134.90,339.65h2.8M136.90,321.00V340.20M135.50,321.00h2.8M135.50,340.20h2.8M137.35,346.83V357.50M135.95,346.83h2.8M135.95,357.50h2.8M137.80,350.16V365.24M136.40,350.16h2.8M136.40,365.24h2.8M138.70,345.25V356.40M137.30,345.25h2.8M137.30,356.40h2.8M139.60,338.82V354.78M138.20,338.82h2.8M138.20,354.78h2.8M140.05,336.09V351.28M138.65,336.09h2.8M138.65,351.28h2.8M140.50,332.62V346.58M139.10,332.62h2.8M139.10,346.58h2.8M141.00,325.92V339.68M139.60,325.92h2.8M139.60,339.68h2.8M141.40,323.34V341.46M140.00,323.34h2.8M140.00,341.46h2.8M142.30,335.17V349.35M140.90,335.17h2.8M140.90,349.35h2.8M143.20,340.54V356.66M141.80,340.54h2.8M141.80,356.66h2.8M143.40,319.22V334.38M142.00,319.22h2.8M142.00,334.38h2.8M144.10,316.05V330.75M142.70,316.05h2.8M142.70,330.75h2.8M144.55,312.46V332.20M143.15,312.46h2.8M143.15,332.20h2.8M145.00,317.41V334.79M143.60,317.41h2.8M143.60,334.79h2.8M145.45,325.52V341.47M144.05,325.52h2.8M144.05,341.47h2.8M145.90,341.45V355.75M144.50,341.45h2.8M144.50,355.75h2.8M146.80,345.36V361.13M145.40,345.36h2.8M145.40,361.13h2.8M147.70,344.47V360.13M146.30,344.47h2.8M146.30,360.13h2.8M147.70,347.24V364.56M146.30,347.24h2.8M146.30,364.56h2.8M148.60,335.45V348.73M147.20,335.45h2.8M147.20,348.73h2.8M149.50,316.80V335.40M148.10,316.80h2.8M148.10,335.40h2.8M149.70,317.33V334.67M148.30,317.33h2.8M148.30,334.67h2.8M150.40,321.19V340.01M149.00,321.19h2.8M149.00,340.01h2.8M150.85,321.08V339.53M149.45,321.08h2.8M149.45,339.53h2.8M151.30,328.46V347.14M149.90,328.46h2.8M149.90,347.14h2.8M152.20,333.75V350.85M150.80,333.75h2.8M150.80,350.85h2.8M152.95,324.27V343.93M151.55,324.27h2.8M151.55,343.93h2.8M153.70,309.54V326.66M152.30,309.54h2.8M152.30,326.66h2.8M154.00,309.90V326.10M152.60,309.90h2.8M152.60,326.10h2.8M154.45,310.89V328.57M153.05,310.89h2.8M153.05,328.57h2.8M154.90,319.59V338.01M153.50,319.59h2.8M153.50,338.01h2.8M155.20,316.71V332.09M153.80,316.71h2.8M153.80,332.09h2.8M155.80,326.52V341.88M154.40,326.52h2.8M154.40,341.88h2.8M156.70,315.02V328.18M155.30,315.02h2.8M155.30,328.18h2.8M157.15,303.34V321.27M155.75,303.34h2.8M155.75,321.27h2.8M157.60,310.54V330.46M156.20,310.54h2.8M156.20,330.46h2.8M158.40,309.56V324.56M157.00,309.56h2.8M157.00,324.56h2.8M159.20,316.13V329.47M157.80,316.13h2.8M157.80,329.47h2.8M160.00,296.28V309.92M158.60,296.28h2.8M158.60,309.92h2.8M161.50,300.20V315.60M160.10,300.20h2.8M160.10,315.60h2.8M162.30,281.20V299.20M160.90,281.20h2.8M160.90,299.20h2.8M163.10,295.13V309.47M161.70,295.13h2.8M161.70,309.47h2.8M165.50,272.40V290.40M164.10,272.40h2.8M164.10,290.40h2.8M166.30,279.90V297.90M164.90,279.90h2.8M164.90,297.90h2.8M168.60,297.22V316.98M167.20,297.22h2.8M167.20,316.98h2.8M170.20,282.80V300.80M168.80,282.80h2.8M168.80,300.80h2.8M171.80,300.86V313.34M170.40,300.86h2.8M170.40,313.34h2.8M172.40,300.07V314.53M171.00,300.07h2.8M171.00,314.53h2.8M172.80,341.14V352.06M171.40,341.14h2.8M171.40,352.06h2.8M173.30,324.21V341.39M171.90,324.21h2.8M171.90,341.39h2.8M175.20,354.80V371.00M173.80,354.80h2.8M173.80,371.00h2.8M177.00,332.48V345.92M175.60,332.48h2.8M175.60,345.92h2.8M177.90,373.55V392.05M176.50,373.55h2.8M176.50,392.05h2.8M179.20,369.46V391.14M177.80,369.46h2.8M177.80,391.14h2.8M180.60,388.76V411.44M179.20,388.76h2.8M179.20,411.44h2.8M182.10,380.76V406.04M180.70,380.76h2.8M180.70,406.04h2.8M182.80,395.15V413.45M181.40,395.15h2.8M181.40,413.45h2.8M184.20,389.57V408.43M182.80,389.57h2.8M182.80,408.43h2.8M185.50,386.36V405.84M184.10,386.36h2.8M184.10,405.84h2.8M187.10,383.73V403.47M185.70,383.73h2.8M185.70,403.47h2.8M190.00,391.56V411.44M188.60,391.56h2.8M188.60,411.44h2.8M192.70,390.73V414.47M191.30,390.73h2.8M191.30,414.47h2.8M193.80,370.72V393.48M192.40,370.72h2.8M192.40,393.48h2.8M195.40,391.40V411.20M194.00,391.40h2.8M194.00,411.20h2.8M198.10,386.36V405.84M196.70,386.36h2.8M196.70,405.84h2.8M202.80,396.28V416.52M201.40,396.28h2.8M201.40,416.52h2.8M207.10,387.71V407.09M205.70,387.71h2.8M205.70,407.09h2.8M208.60,391.97V416.03M207.20,391.97h2.8M207.20,416.03h2.8M210.70,382.05V402.55M209.30,382.05h2.8M209.30,402.55h2.8M213.60,395.51V417.89M212.20,395.51h2.8M212.20,417.89h2.8M227.90,392.73V417.27M226.50,392.73h2.8M226.50,417.27h2.8M235.30,374.38V396.22M233.90,374.38h2.8M233.90,396.22h2.8M237.50,389.36V409.44M236.10,389.36h2.8M236.10,409.44h2.8M239.20,379.85V404.95M237.80,379.85h2.8M237.80,404.95h2.8M241.50,364.04V389.36M240.10,364.04h2.8M240.10,389.36h2.8M245.40,391.83V412.57M244.00,391.83h2.8M244.00,412.57h2.8M247.70,393.31V415.69M246.30,393.31h2.8M246.30,415.69h2.8M249.70,376.97V402.63M248.30,376.97h2.8M248.30,402.63h2.8M251.90,391.67V413.53M250.50,391.67h2.8M250.50,413.53h2.8M254.40,358.22V377.98M253.00,358.22h2.8M253.00,377.98h2.8M257.00,385.80V404.20M255.60,385.80h2.8M255.60,404.20h2.8" stroke="#9a9a9a" stroke-width="0.75" fill="none"/>
<path d="M44.90,352.90 L45.07,394.92 L45.24,404.56 L45.41,389.90 L45.58,406.30 L45.75,405.95 L45.92,344.44 L46.09,349.83 L46.26,390.86 L46.43,405.03 L46.60,344.31 L46.77,393.21 L46.94,342.41 L47.11,400.34 L47.28,374.34 L47.45,359.70 L47.62,388.30 L47.79,367.86 L47.96,352.91 L48.13,347.75 L48.30,388.33 L48.47,361.58 L48.64,384.36 L48.81,357.85 L48.98,388.67 L49.15,361.93 L49.32,360.79 L49.49,352.21 L49.66,382.94 L49.83,398.97 L50.00,386.93 L50.17,373.51 L50.34,347.52 L50.51,341.21 L50.68,381.88 L50.85,329.62 L51.02,385.36 L51.19,384.59 L51.36,389.34 L51.53,372.78 L51.70,342.19 L51.87,338.16 L52.04,364.38 L52.21,388.01 L52.38,370.07 L52.55,378.44 L52.72,341.26 L52.89,370.44 L53.06,380.60 L53.23,339.74 L53.40,375.22 L53.57,375.92 L53.74,383.36 L53.91,372.38 L54.08,372.54 L54.25,382.71 L54.42,389.10 L54.59,392.70 L54.76,347.65 L54.93,344.56 L55.10,390.16 L55.27,362.77 L55.44,351.26 L55.61,369.32 L55.78,386.51 L55.95,376.84 L56.12,383.88 L56.29,356.76 L56.46,372.19 L56.63,384.10 L56.80,344.60 L56.97,370.71 L57.14,356.17 L57.31,357.26 L57.48,360.22 L57.65,399.47 L57.82,330.72 L57.99,378.73 L58.16,390.39 L58.33,368.92 L58.50,365.44 L58.67,381.35 L58.84,373.73 L59.01,386.58 L59.18,369.34 L59.35,387.01 L59.52,348.78 L59.69,374.81 L59.86,371.64 L60.03,395.19 L60.20,350.93 L60.37,352.63 L60.54,370.84 L60.71,386.46 L60.88,377.23 L61.05,342.72 L61.22,398.13 L61.39,342.42 L61.56,367.18 L61.73,374.56 L61.90,331.51 L62.07,387.14 L62.24,387.82 L62.41,375.50 L62.58,370.80 L62.75,405.28 L62.92,384.66 L63.09,379.74 L63.26,384.20 L63.43,371.76 L63.60,370.32 L63.77,386.54 L63.94,378.00 L64.11,398.46 L64.28,378.90 L64.45,389.40 L64.62,341.01 L64.79,355.49 L64.96,345.24 L65.13,360.16 L65.30,371.24 L65.47,390.31 L65.50,343.91 L65.64,349.09 L65.68,349.84 L65.81,351.10 L65.86,339.21 L65.98,388.20 L66.04,362.42 L66.22,371.77 L66.40,367.97 L66.58,332.70 L66.76,342.76 L66.94,337.62 L67.12,339.86 L67.30,343.40 L67.48,328.97 L67.66,322.85 L67.84,356.14 L68.02,309.93 L68.20,319.59 L68.38,317.96 L68.56,305.89 L68.74,306.37 L68.90,297.00 L68.92,312.34 L69.10,326.90 L69.28,324.13 L69.46,322.38 L69.64,354.40 L69.82,324.86 L70.00,325.60 L70.18,334.11 L70.36,368.20 L70.54,362.30 L70.72,361.16 L70.90,383.63 L71.08,376.38 L71.26,391.24 L71.44,385.74 L71.62,367.64 L71.80,380.13 L71.98,393.67 L72.16,402.07 L72.34,384.94 L72.52,404.11 L72.70,407.70 L72.88,407.70 L73.06,403.01 L73.24,407.70 L73.90,404.00 L76.20,600.00 L76.70,100.00 L84.20,100.00 L85.10,298.80 L85.00,301.95 L85.40,305.17 L86.20,308.60 L83.90,311.60 L86.00,311.88 L85.60,313.35 L84.60,315.47 L86.20,316.03 L84.80,316.56 L85.20,317.53 L87.00,319.50 L86.60,322.14 L87.20,326.05 L85.90,326.30 L88.10,328.90 L87.80,332.00 L88.40,334.50 L89.60,335.60 L86.80,336.70 L85.80,338.67 L86.80,339.41 L88.85,339.55 L87.00,339.90 L88.00,340.17 L88.60,340.72 L87.40,343.50 L87.60,343.64 L86.40,346.17 L88.80,348.49 L88.20,349.50 L89.20,349.63 L87.40,350.90 L89.40,355.77 L89.60,364.50 L89.00,364.90 L89.80,369.99 L90.00,355.54 L90.10,355.70 L90.20,368.93 L90.40,359.37 L90.60,352.75 L90.70,363.80 L90.70,373.20 L90.80,359.94 L91.00,366.51 L91.20,356.76 L91.40,369.20 L91.40,362.29 L91.60,351.27 L91.80,359.42 L92.00,344.92 L92.10,349.60 L92.20,346.62 L92.40,353.79 L92.80,359.00 L93.80,360.95 L94.80,361.10 L95.50,376.00 L96.10,367.20 L97.15,359.24 L98.20,351.00 L98.20,379.30 L98.80,359.00 L99.50,365.10 L100.20,377.56 L100.90,373.20 L101.55,365.32 L102.20,355.00 L102.90,363.10 L103.60,359.00 L104.20,367.20 L104.90,378.46 L105.60,371.90 L106.30,357.70 L106.90,380.00 L107.60,366.50 L108.60,359.18 L109.60,346.90 L110.30,360.40 L111.00,374.60 L112.00,369.02 L113.00,352.30 L113.70,362.40 L114.40,357.00 L115.05,358.52 L115.70,375.30 L116.40,372.31 L117.10,365.80 L117.75,367.77 L118.40,360.40 L119.10,350.86 L119.80,357.70 L120.50,347.60 L120.70,346.80 L121.60,354.10 L121.80,335.40 L122.50,335.10 L122.60,335.60 L123.55,358.44 L124.50,365.80 L125.20,361.30 L126.10,366.70 L127.00,348.83 L127.90,343.20 L128.35,345.39 L128.80,348.60 L129.70,353.20 L130.60,349.49 L131.50,357.70 L132.40,360.77 L133.30,364.00 L134.20,360.15 L135.10,352.30 L135.55,338.45 L136.00,340.50 L136.30,330.70 L136.90,330.60 L137.35,352.16 L137.80,357.70 L138.70,350.82 L139.60,346.80 L140.05,343.68 L140.50,339.60 L141.00,332.80 L141.40,332.40 L142.30,342.26 L143.20,348.60 L143.40,326.80 L144.10,323.40 L144.55,322.33 L145.00,326.10 L145.45,333.49 L145.90,348.60 L146.80,353.24 L147.70,352.30 L147.70,355.90 L148.60,342.09 L149.50,326.10 L149.70,326.00 L150.40,330.60 L150.85,330.30 L151.30,337.80 L152.20,342.30 L152.95,334.10 L153.70,318.10 L154.00,318.00 L154.45,319.73 L154.90,328.80 L155.20,324.40 L155.80,334.20 L156.70,321.60 L157.15,312.30 L157.60,320.50 L158.40,317.06 L159.20,322.80 L160.00,303.10 L161.50,307.90 L162.30,290.20 L163.10,302.30 L165.50,281.40 L166.30,288.90 L168.60,307.10 L170.20,291.80 L171.80,307.10 L172.40,307.30 L172.80,346.60 L173.30,332.80 L175.20,362.90 L177.00,339.20 L177.90,382.80 L179.20,380.30 L180.60,400.10 L182.10,393.40 L182.80,404.30 L184.20,399.00 L185.50,396.10 L187.10,393.60 L188.60,412.00 L190.00,401.50 L191.50,413.00 L192.70,402.60 L193.80,382.10 L194.90,413.00 L195.40,401.30 L198.10,396.10 L200.20,415.00 L202.80,406.40 L204.60,415.00 L207.10,397.40 L208.60,404.00 L210.70,392.30 L212.40,412.00 L213.60,406.70 L215.50,416.00 L225.50,416.00 L227.90,405.00 L230.50,416.00 L233.50,414.00 L235.30,385.30 L237.50,399.40 L239.20,392.40 L241.50,376.70 L243.60,412.00 L245.40,402.20 L247.70,404.50 L249.70,389.80 L251.90,402.60 L254.40,368.10 L257.00,395.00" stroke="#000" stroke-width="1.0" fill="none" stroke-linejoin="round"/>
<g fill="#fff" stroke="#000" stroke-width="0.75"><circle cx="44.90" cy="352.90" r="1.7" fill="#b0b0b0"/><circle cx="45.07" cy="394.92" r="1.7" fill="#b0b0b0"/><circle cx="45.24" cy="404.56" r="1.7"/><circle cx="45.41" cy="389.90" r="1.7" fill="#b0b0b0"/><circle cx="45.58" cy="406.30" r="1.7"/><circle cx="45.75" cy="405.95" r="1.7"/><circle cx="45.92" cy="344.44" r="1.7" fill="#b0b0b0"/><circle cx="46.09" cy="349.83" r="1.7" fill="#b0b0b0"/><circle cx="46.26" cy="390.86" r="1.7" fill="#b0b0b0"/><circle cx="46.43" cy="405.03" r="1.7"/><circle cx="46.60" cy="344.31" r="1.7" fill="#b0b0b0"/><circle cx="46.77" cy="393.21" r="1.7" fill="#b0b0b0"/><circle cx="46.94" cy="342.41" r="1.7" fill="none"/><circle cx="47.11" cy="400.34" r="1.7"/><circle cx="47.28" cy="374.34" r="1.7" fill="none"/><circle cx="47.45" cy="359.70" r="1.7" fill="#b0b0b0"/><circle cx="47.62" cy="388.30" r="1.7" fill="#b0b0b0"/><circle cx="47.79" cy="367.86" r="1.7" fill="#b0b0b0"/><circle cx="47.96" cy="352.91" r="1.7" fill="#b0b0b0"/><circle cx="48.13" cy="347.75" r="1.7" fill="#b0b0b0"/><circle cx="48.30" cy="388.33" r="1.7" fill="none"/><circle cx="48.47" cy="361.58" r="1.7" fill="none"/><circle cx="48.64" cy="384.36" r="1.7" fill="#b0b0b0"/><circle cx="48.81" cy="357.85" r="1.7" fill="#b0b0b0"/><circle cx="48.98" cy="388.67" r="1.7" fill="#b0b0b0"/><circle cx="49.15" cy="361.93" r="1.7" fill="#b0b0b0"/><circle cx="49.32" cy="360.79" r="1.7" fill="#b0b0b0"/><circle cx="49.49" cy="352.21" r="1.7" fill="#b0b0b0"/><circle cx="49.66" cy="382.94" r="1.7" fill="#b0b0b0"/><circle cx="49.83" cy="398.97" r="1.7"/><circle cx="50.00" cy="386.93" r="1.7" fill="#b0b0b0"/><circle cx="50.17" cy="373.51" r="1.7" fill="none"/><circle cx="50.34" cy="347.52" r="1.7" fill="#b0b0b0"/><circle cx="50.51" cy="341.21" r="1.7" fill="none"/><circle cx="50.68" cy="381.88" r="1.7" fill="#b0b0b0"/><circle cx="50.85" cy="329.62" r="1.7"/><circle cx="51.02" cy="385.36" r="1.7" fill="#b0b0b0"/><circle cx="51.19" cy="384.59" r="1.7" fill="#b0b0b0"/><circle cx="51.36" cy="389.34" r="1.7" fill="none"/><circle cx="51.53" cy="372.78" r="1.7" fill="#b0b0b0"/><circle cx="51.70" cy="342.19" r="1.7" fill="#b0b0b0"/><circle cx="51.87" cy="338.16" r="1.7" fill="none"/><circle cx="52.04" cy="364.38" r="1.7" fill="#b0b0b0"/><circle cx="52.21" cy="388.01" r="1.7" fill="#b0b0b0"/><circle cx="52.38" cy="370.07" r="1.7" fill="#b0b0b0"/><circle cx="52.55" cy="378.44" r="1.7" fill="#b0b0b0"/><circle cx="52.72" cy="341.26" r="1.7" fill="#b0b0b0"/><circle cx="52.89" cy="370.44" r="1.7" fill="#b0b0b0"/><circle cx="53.06" cy="380.60" r="1.7" fill="#b0b0b0"/><circle cx="53.23" cy="339.74" r="1.7" fill="#b0b0b0"/><circle cx="53.40" cy="375.22" r="1.7" fill="#b0b0b0"/><circle cx="53.57" cy="375.92" r="1.7" fill="none"/><circle cx="53.74" cy="383.36" r="1.7" fill="#b0b0b0"/><circle cx="53.91" cy="372.38" r="1.7" fill="none"/><circle cx="54.08" cy="372.54" r="1.7" fill="#b0b0b0"/><circle cx="54.25" cy="382.71" r="1.7" fill="#b0b0b0"/><circle cx="54.42" cy="389.10" r="1.7" fill="none"/><circle cx="54.59" cy="392.70" r="1.7" fill="#b0b0b0"/><circle cx="54.76" cy="347.65" r="1.7" fill="#b0b0b0"/><circle cx="54.93" cy="344.56" r="1.7" fill="#b0b0b0"/><circle cx="55.10" cy="390.16" r="1.7" fill="none"/><circle cx="55.27" cy="362.77" r="1.7" fill="#b0b0b0"/><circle cx="55.44" cy="351.26" r="1.7" fill="#b0b0b0"/><circle cx="55.61" cy="369.32" r="1.7" fill="#b0b0b0"/><circle cx="55.78" cy="386.51" r="1.7" fill="#b0b0b0"/><circle cx="55.95" cy="376.84" r="1.7" fill="#b0b0b0"/><circle cx="56.12" cy="383.88" r="1.7" fill="none"/><circle cx="56.29" cy="356.76" r="1.7" fill="#b0b0b0"/><circle cx="56.46" cy="372.19" r="1.7" fill="#b0b0b0"/><circle cx="56.63" cy="384.10" r="1.7" fill="#b0b0b0"/><circle cx="56.80" cy="344.60" r="1.7" fill="#b0b0b0"/><circle cx="56.97" cy="370.71" r="1.7" fill="#b0b0b0"/><circle cx="57.14" cy="356.17" r="1.7" fill="none"/><circle cx="57.31" cy="357.26" r="1.7" fill="#b0b0b0"/><circle cx="57.48" cy="360.22" r="1.7" fill="#b0b0b0"/><circle cx="57.65" cy="399.47" r="1.7"/><circle cx="57.82" cy="330.72" r="1.7" fill="none"/><circle cx="57.99" cy="378.73" r="1.7" fill="#b0b0b0"/><circle cx="58.16" cy="390.39" r="1.7" fill="#b0b0b0"/><circle cx="58.33" cy="368.92" r="1.7" fill="none"/><circle cx="58.50" cy="365.44" r="1.7" fill="#b0b0b0"/><circle cx="58.67" cy="381.35" r="1.7" fill="#b0b0b0"/><circle cx="58.84" cy="373.73" r="1.7" fill="none"/><circle cx="59.01" cy="386.58" r="1.7" fill="#b0b0b0"/><circle cx="59.18" cy="369.34" r="1.7" fill="#b0b0b0"/><circle cx="59.35" cy="387.01" r="1.7" fill="#b0b0b0"/><circle cx="59.52" cy="348.78" r="1.7" fill="#b0b0b0"/><circle cx="59.69" cy="374.81" r="1.7" fill="#b0b0b0"/><circle cx="59.86" cy="371.64" r="1.7" fill="#b0b0b0"/><circle cx="60.03" cy="395.19" r="1.7" fill="#b0b0b0"/><circle cx="60.20" cy="350.93" r="1.7" fill="#b0b0b0"/><circle cx="60.37" cy="352.63" r="1.7" fill="#b0b0b0"/><circle cx="60.54" cy="370.84" r="1.7" fill="none"/><circle cx="60.71" cy="386.46" r="1.7" fill="#b0b0b0"/><circle cx="60.88" cy="377.23" r="1.7" fill="#b0b0b0"/><circle cx="61.05" cy="342.72" r="1.7" fill="#b0b0b0"/><circle cx="61.22" cy="398.13" r="1.7"/><circle cx="61.39" cy="342.42" r="1.7" fill="#b0b0b0"/><circle cx="61.56" cy="367.18" r="1.7" fill="#b0b0b0"/><circle cx="61.73" cy="374.56" r="1.7" fill="#b0b0b0"/><circle cx="61.90" cy="331.51" r="1.7" fill="#b0b0b0"/><circle cx="62.07" cy="387.14" r="1.7" fill="none"/><circle cx="62.24" cy="387.82" r="1.7" fill="none"/><circle cx="62.41" cy="375.50" r="1.7" fill="none"/><circle cx="62.58" cy="370.80" r="1.7" fill="#b0b0b0"/><circle cx="62.75" cy="405.28" r="1.7"/><circle cx="62.92" cy="384.66" r="1.7" fill="#b0b0b0"/><circle cx="63.09" cy="379.74" r="1.7" fill="none"/><circle cx="63.26" cy="384.20" r="1.7" fill="#b0b0b0"/><circle cx="63.43" cy="371.76" r="1.7" fill="#b0b0b0"/><circle cx="63.60" cy="370.32" r="1.7" fill="#b0b0b0"/><circle cx="63.77" cy="386.54" r="1.7" fill="none"/><circle cx="63.94" cy="378.00" r="1.7" fill="none"/><circle cx="64.11" cy="398.46" r="1.7"/><circle cx="64.28" cy="378.90" r="1.7" fill="none"/><circle cx="64.45" cy="389.40" r="1.7" fill="none"/><circle cx="64.62" cy="341.01" r="1.7" fill="#b0b0b0"/><circle cx="64.79" cy="355.49" r="1.7" fill="none"/><circle cx="64.96" cy="345.24" r="1.7" fill="#b0b0b0"/><circle cx="65.13" cy="360.16" r="1.7" fill="#b0b0b0"/><circle cx="65.30" cy="371.24" r="1.7" fill="#b0b0b0"/><circle cx="65.47" cy="390.31" r="1.7" fill="#b0b0b0"/><circle cx="65.50" cy="343.91" r="1.7" fill="#b0b0b0"/><circle cx="65.64" cy="349.09" r="1.7" fill="#b0b0b0"/><circle cx="65.68" cy="349.84" r="1.7" fill="#b0b0b0"/><circle cx="65.81" cy="351.10" r="1.7" fill="#b0b0b0"/><circle cx="65.86" cy="339.21" r="1.7" fill="#b0b0b0"/><circle cx="65.98" cy="388.20" r="1.7" fill="none"/><circle cx="66.04" cy="362.42" r="1.7" fill="#b0b0b0"/><circle cx="66.22" cy="371.77" r="1.7" fill="#b0b0b0"/><circle cx="66.40" cy="367.97" r="1.7" fill="#b0b0b0"/><circle cx="66.58" cy="332.70" r="1.7" fill="#b0b0b0"/><circle cx="66.76" cy="342.76" r="1.7" fill="#b0b0b0"/><circle cx="66.94" cy="337.62" r="1.7" fill="#b0b0b0"/><circle cx="67.12" cy="339.86" r="1.7" fill="none"/><circle cx="67.30" cy="343.40" r="1.7" fill="#b0b0b0"/><circle cx="67.48" cy="328.97" r="1.7" fill="#b0b0b0"/><circle cx="67.66" cy="322.85" r="1.7" fill="#b0b0b0"/><circle cx="67.84" cy="356.14" r="1.7" fill="none"/><circle cx="68.02" cy="309.93" r="1.7" fill="#b0b0b0"/><circle cx="68.20" cy="319.59" r="1.7" fill="#b0b0b0"/><circle cx="68.38" cy="317.96" r="1.7" fill="#b0b0b0"/><circle cx="68.56" cy="305.89" r="1.7" fill="#b0b0b0"/><circle cx="68.74" cy="306.37" r="1.7" fill="#b0b0b0"/><circle cx="68.90" cy="297.00" r="1.7" fill="none"/><circle cx="68.92" cy="312.34" r="1.7" fill="#b0b0b0"/><circle cx="69.10" cy="326.90" r="1.7" fill="#b0b0b0"/><circle cx="69.28" cy="324.13" r="1.7" fill="#b0b0b0"/><circle cx="69.46" cy="322.38" r="1.7" fill="#b0b0b0"/><circle cx="69.64" cy="354.40" r="1.7" fill="#b0b0b0"/><circle cx="69.82" cy="324.86" r="1.7" fill="none"/><circle cx="70.00" cy="325.60" r="1.7" fill="#b0b0b0"/><circle cx="70.18" cy="334.11" r="1.7" fill="#b0b0b0"/><circle cx="70.36" cy="368.20" r="1.7" fill="#b0b0b0"/><circle cx="70.54" cy="362.30" r="1.7" fill="#b0b0b0"/><circle cx="70.72" cy="361.16" r="1.7" fill="#b0b0b0"/><circle cx="70.90" cy="383.63" r="1.7" fill="none"/><circle cx="71.08" cy="376.38" r="1.7" fill="#b0b0b0"/><circle cx="71.26" cy="391.24" r="1.7" fill="#b0b0b0"/><circle cx="71.44" cy="385.74" r="1.7" fill="none"/><circle cx="71.62" cy="367.64" r="1.7" fill="none"/><circle cx="71.80" cy="380.13" r="1.7" fill="none"/><circle cx="71.98" cy="393.67" r="1.7" fill="#b0b0b0"/><circle cx="72.16" cy="402.07" r="1.7"/><circle cx="72.34" cy="384.94" r="1.7" fill="#b0b0b0"/><circle cx="72.52" cy="404.11" r="1.7"/><circle cx="72.70" cy="407.70" r="1.7"/><circle cx="72.88" cy="407.70" r="1.7"/><circle cx="73.06" cy="403.01" r="1.7"/><circle cx="73.24" cy="407.70" r="1.7"/><circle cx="73.90" cy="404.00" r="1.7"/><circle cx="85.10" cy="298.80" r="1.7"/><circle cx="85.00" cy="301.95" r="1.7" fill="#b0b0b0"/><circle cx="85.40" cy="305.17" r="1.7" fill="#b0b0b0"/><circle cx="86.20" cy="308.60" r="1.7" fill="#b0b0b0"/><circle cx="83.90" cy="311.60" r="1.7"/><circle cx="86.00" cy="311.88" r="1.7" fill="#b0b0b0"/><circle cx="85.60" cy="313.35" r="1.7" fill="none"/><circle cx="84.60" cy="315.47" r="1.7" fill="#b0b0b0"/><circle cx="86.20" cy="316.03" r="1.7" fill="none"/><circle cx="84.80" cy="316.56" r="1.7" fill="#b0b0b0"/><circle cx="85.20" cy="317.53" r="1.7" fill="#b0b0b0"/><circle cx="87.00" cy="319.50" r="1.7" fill="#b0b0b0"/><circle cx="86.60" cy="322.14" r="1.7" fill="#b0b0b0"/><circle cx="87.20" cy="326.05" r="1.7" fill="#b0b0b0"/><circle cx="85.90" cy="326.30" r="1.7" fill="#b0b0b0"/><circle cx="88.10" cy="328.90" r="1.7" fill="#b0b0b0"/><circle cx="87.80" cy="332.00" r="1.7" fill="#b0b0b0"/><circle cx="88.40" cy="334.50" r="1.7" fill="#b0b0b0"/><circle cx="89.60" cy="335.60" r="1.7" fill="none"/><circle cx="86.80" cy="336.70" r="1.7" fill="#b0b0b0"/><circle cx="85.80" cy="338.67" r="1.7" fill="#b0b0b0"/><circle cx="86.80" cy="339.41" r="1.7" fill="#b0b0b0"/><circle cx="88.85" cy="339.55" r="1.7" fill="none"/><circle cx="87.00" cy="339.90" r="1.7" fill="#b0b0b0"/><circle cx="88.00" cy="340.17" r="1.7" fill="#b0b0b0"/><circle cx="88.60" cy="340.72" r="1.7" fill="none"/><circle cx="87.40" cy="343.50" r="1.7" fill="#b0b0b0"/><circle cx="87.60" cy="343.64" r="1.7" fill="none"/><circle cx="86.40" cy="346.17" r="1.7" fill="none"/><circle cx="88.80" cy="348.49" r="1.7" fill="none"/><circle cx="88.20" cy="349.50" r="1.7" fill="#b0b0b0"/><circle cx="89.20" cy="349.63" r="1.7" fill="#b0b0b0"/><circle cx="87.40" cy="350.90" r="1.7" fill="#b0b0b0"/><circle cx="89.40" cy="355.77" r="1.7" fill="#b0b0b0"/><circle cx="89.60" cy="364.50" r="1.7" fill="#b0b0b0"/><circle cx="89.00" cy="364.90" r="1.7" fill="#b0b0b0"/><circle cx="89.80" cy="369.99" r="1.7" fill="#b0b0b0"/><circle cx="90.00" cy="355.54" r="1.7" fill="#b0b0b0"/><circle cx="90.10" cy="355.70" r="1.7" fill="#b0b0b0"/><circle cx="90.20" cy="368.93" r="1.7" fill="none"/><circle cx="90.40" cy="359.37" r="1.7" fill="none"/><circle cx="90.60" cy="352.75" r="1.7" fill="#b0b0b0"/><circle cx="90.70" cy="363.80" r="1.7" fill="none"/><circle cx="90.70" cy="373.20" r="1.7" fill="#b0b0b0"/><circle cx="90.80" cy="359.94" r="1.7" fill="#b0b0b0"/><circle cx="91.00" cy="366.51" r="1.7" fill="none"/><circle cx="91.20" cy="356.76" r="1.7" fill="#b0b0b0"/><circle cx="91.40" cy="369.20" r="1.7" fill="#b0b0b0"/><circle cx="91.40" cy="362.29" r="1.7" fill="#b0b0b0"/><circle cx="91.60" cy="351.27" r="1.7" fill="#b0b0b0"/><circle cx="91.80" cy="359.42" r="1.7" fill="#b0b0b0"/><circle cx="92.00" cy="344.92" r="1.7" fill="none"/><circle cx="92.10" cy="349.60" r="1.7" fill="#b0b0b0"/><circle cx="92.20" cy="346.62" r="1.7" fill="none"/><circle cx="92.40" cy="353.79" r="1.7" fill="#b0b0b0"/><circle cx="92.80" cy="359.00" r="1.7" fill="#b0b0b0"/><circle cx="93.80" cy="360.95" r="1.7"/><circle cx="94.80" cy="361.10" r="1.7"/><circle cx="95.50" cy="376.00" r="1.7"/><circle cx="96.10" cy="367.20" r="1.7"/><circle cx="97.15" cy="359.24" r="1.7"/><circle cx="98.20" cy="351.00" r="1.7"/><circle cx="98.20" cy="379.30" r="1.7"/><circle cx="98.80" cy="359.00" r="1.7"/><circle cx="99.50" cy="365.10" r="1.7"/><circle cx="100.20" cy="377.56" r="1.7"/><circle cx="100.90" cy="373.20" r="1.7"/><circle cx="101.55" cy="365.32" r="1.7"/><circle cx="102.20" cy="355.00" r="1.7"/><circle cx="102.90" cy="363.10" r="1.7"/><circle cx="103.60" cy="359.00" r="1.7"/><circle cx="104.20" cy="367.20" r="1.7"/><circle cx="104.90" cy="378.46" r="1.7"/><circle cx="105.60" cy="371.90" r="1.7"/><circle cx="106.30" cy="357.70" r="1.7"/><circle cx="106.90" cy="380.00" r="1.7"/><circle cx="107.60" cy="366.50" r="1.7"/><circle cx="108.60" cy="359.18" r="1.7"/><circle cx="109.60" cy="346.90" r="1.7"/><circle cx="110.30" cy="360.40" r="1.7"/><circle cx="111.00" cy="374.60" r="1.7"/><circle cx="112.00" cy="369.02" r="1.7"/><circle cx="113.00" cy="352.30" r="1.7"/><circle cx="113.70" cy="362.40" r="1.7"/><circle cx="114.40" cy="357.00" r="1.7"/><circle cx="115.05" cy="358.52" r="1.7"/><circle cx="115.70" cy="375.30" r="1.7"/><circle cx="116.40" cy="372.31" r="1.7"/><circle cx="117.10" cy="365.80" r="1.7"/><circle cx="117.75" cy="367.77" r="1.7"/><circle cx="118.40" cy="360.40" r="1.7"/><circle cx="119.10" cy="350.86" r="1.7"/><circle cx="119.80" cy="357.70" r="1.7"/><circle cx="120.50" cy="347.60" r="1.7"/><circle cx="120.70" cy="346.80" r="1.7"/><circle cx="121.60" cy="354.10" r="1.7"/><circle cx="121.80" cy="335.40" r="1.7"/><circle cx="122.50" cy="335.10" r="1.7"/><circle cx="122.60" cy="335.60" r="1.7"/><circle cx="123.55" cy="358.44" r="1.7"/><circle cx="124.50" cy="365.80" r="1.7"/><circle cx="125.20" cy="361.30" r="1.7"/><circle cx="126.10" cy="366.70" r="1.7"/><circle cx="127.00" cy="348.83" r="1.7"/><circle cx="127.90" cy="343.20" r="1.7"/><circle cx="128.35" cy="345.39" r="1.7"/><circle cx="128.80" cy="348.60" r="1.7"/><circle cx="129.70" cy="353.20" r="1.7"/><circle cx="130.60" cy="349.49" r="1.7"/><circle cx="131.50" cy="357.70" r="1.7"/><circle cx="132.40" cy="360.77" r="1.7"/><circle cx="133.30" cy="364.00" r="1.7"/><circle cx="134.20" cy="360.15" r="1.7"/><circle cx="135.10" cy="352.30" r="1.7"/><circle cx="135.55" cy="338.45" r="1.7"/><circle cx="136.00" cy="340.50" r="1.7"/><circle cx="136.30" cy="330.70" r="1.7"/><circle cx="136.90" cy="330.60" r="1.7"/><circle cx="137.35" cy="352.16" r="1.7"/><circle cx="137.80" cy="357.70" r="1.7"/><circle cx="138.70" cy="350.82" r="1.7"/><circle cx="139.60" cy="346.80" r="1.7"/><circle cx="140.05" cy="343.68" r="1.7"/><circle cx="140.50" cy="339.60" r="1.7"/><circle cx="141.00" cy="332.80" r="1.7"/><circle cx="141.40" cy="332.40" r="1.7"/><circle cx="142.30" cy="342.26" r="1.7"/><circle cx="143.20" cy="348.60" r="1.7"/><circle cx="143.40" cy="326.80" r="1.7"/><circle cx="144.10" cy="323.40" r="1.7"/><circle cx="144.55" cy="322.33" r="1.7"/><circle cx="145.00" cy="326.10" r="1.7"/><circle cx="145.45" cy="333.49" r="1.7"/><circle cx="145.90" cy="348.60" r="1.7"/><circle cx="146.80" cy="353.24" r="1.7"/><circle cx="147.70" cy="352.30" r="1.7"/><circle cx="147.70" cy="355.90" r="1.7"/><circle cx="148.60" cy="342.09" r="1.7"/><circle cx="149.50" cy="326.10" r="1.7"/><circle cx="149.70" cy="326.00" r="1.7"/><circle cx="150.40" cy="330.60" r="1.7"/><circle cx="150.85" cy="330.30" r="1.7"/><circle cx="151.30" cy="337.80" r="1.7"/><circle cx="152.20" cy="342.30" r="1.7"/><circle cx="152.95" cy="334.10" r="1.7"/><circle cx="153.70" cy="318.10" r="1.7"/><circle cx="154.00" cy="318.00" r="1.7"/><circle cx="154.45" cy="319.73" r="1.7"/><circle cx="154.90" cy="328.80" r="1.7"/><circle cx="155.20" cy="324.40" r="1.7"/><circle cx="155.80" cy="334.20" r="1.7"/><circle cx="156.70" cy="321.60" r="1.7"/><circle cx="157.15" cy="312.30" r="1.7"/><circle cx="157.60" cy="320.50" r="1.7"/><circle cx="158.40" cy="317.06" r="1.7"/><circle cx="159.20" cy="322.80" r="1.7"/><circle cx="160.00" cy="303.10" r="1.7"/><circle cx="161.50" cy="307.90" r="1.7"/><circle cx="162.30" cy="290.20" r="1.7"/><circle cx="163.10" cy="302.30" r="1.7"/><circle cx="165.50" cy="281.40" r="1.7"/><circle cx="166.30" cy="288.90" r="1.7"/><circle cx="168.60" cy="307.10" r="1.7"/><circle cx="170.20" cy="291.80" r="1.7"/><circle cx="171.80" cy="307.10" r="1.7"/><circle cx="172.40" cy="307.30" r="1.7"/><circle cx="172.80" cy="346.60" r="1.7"/><circle cx="173.30" cy="332.80" r="1.7"/><circle cx="175.20" cy="362.90" r="1.7"/><circle cx="177.00" cy="339.20" r="1.7"/><circle cx="177.90" cy="382.80" r="1.7"/><circle cx="179.20" cy="380.30" r="1.7"/><circle cx="180.60" cy="400.10" r="1.7"/><circle cx="182.10" cy="393.40" r="1.7"/><circle cx="182.80" cy="404.30" r="1.7"/><circle cx="184.20" cy="399.00" r="1.7"/><circle cx="185.50" cy="396.10" r="1.7"/><circle cx="187.10" cy="393.60" r="1.7"/><circle cx="190.00" cy="401.50" r="1.7"/><circle cx="192.70" cy="402.60" r="1.7"/><circle cx="193.80" cy="382.10" r="1.7"/><circle cx="195.40" cy="401.30" r="1.7"/><circle cx="198.10" cy="396.10" r="1.7"/><circle cx="202.80" cy="406.40" r="1.7"/><circle cx="207.10" cy="397.40" r="1.7"/><circle cx="208.60" cy="404.00" r="1.7"/><circle cx="210.70" cy="392.30" r="1.7"/><circle cx="213.60" cy="406.70" r="1.7"/><circle cx="227.90" cy="405.00" r="1.7"/><circle cx="235.30" cy="385.30" r="1.7"/><circle cx="237.50" cy="399.40" r="1.7"/><circle cx="239.20" cy="392.40" r="1.7"/><circle cx="241.50" cy="376.70" r="1.7"/><circle cx="245.40" cy="402.20" r="1.7"/><circle cx="247.70" cy="404.50" r="1.7"/><circle cx="249.70" cy="389.80" r="1.7"/><circle cx="251.90" cy="402.60" r="1.7"/><circle cx="254.40" cy="368.10" r="1.7"/><circle cx="257.00" cy="395.00" r="1.7"/></g>
</g>
<rect x="36.4" y="232.2" width="219.70" height="176.20" fill="none" stroke="#1a1a1a" stroke-width="1.2"/>
<line x1="33.20" y1="408.40" x2="36.40" y2="408.40" stroke="#1a1a1a" stroke-width="1.15"/>
<line x1="34.60" y1="401.36" x2="36.40" y2="401.36" stroke="#1a1a1a" stroke-width="1.15"/>
<line x1="34.60" y1="394.31" x2="36.40" y2="394.31" stroke="#1a1a1a" stroke-width="1.15"/>
<line x1="34.60" y1="387.27" x2="36.40" y2="387.27" stroke="#1a1a1a" stroke-width="1.15"/>
<line x1="34.60" y1="380.22" x2="36.40" y2="380.22" stroke="#1a1a1a" stroke-width="1.15"/>
<line x1="33.20" y1="373.18" x2="36.40" y2="373.18" stroke="#1a1a1a" stroke-width="1.15"/>
<line x1="34.60" y1="366.14" x2="36.40" y2="366.14" stroke="#1a1a1a" stroke-width="1.15"/>
<line x1="34.60" y1="359.09" x2="36.40" y2="359.09" stroke="#1a1a1a" stroke-width="1.15"/>
<line x1="34.60" y1="352.05" x2="36.40" y2="352.05" stroke="#1a1a1a" stroke-width="1.15"/>
<line x1="34.60" y1="345.00" x2="36.40" y2="345.00" stroke="#1a1a1a" stroke-width="1.15"/>
<line x1="33.20" y1="337.96" x2="36.40" y2="337.96" stroke="#1a1a1a" stroke-width="1.15"/>
<line x1="34.60" y1="330.92" x2="36.40" y2="330.92" stroke="#1a1a1a" stroke-width="1.15"/>
<line x1="34.60" y1="323.87" x2="36.40" y2="323.87" stroke="#1a1a1a" stroke-width="1.15"/>
<line x1="34.60" y1="316.83" x2="36.40" y2="316.83" stroke="#1a1a1a" stroke-width="1.15"/>
<line x1="34.60" y1="309.78" x2="36.40" y2="309.78" stroke="#1a1a1a" stroke-width="1.15"/>
<line x1="33.20" y1="302.74" x2="36.40" y2="302.74" stroke="#1a1a1a" stroke-width="1.15"/>
<line x1="34.60" y1="295.70" x2="36.40" y2="295.70" stroke="#1a1a1a" stroke-width="1.15"/>
<line x1="34.60" y1="288.65" x2="36.40" y2="288.65" stroke="#1a1a1a" stroke-width="1.15"/>
<line x1="34.60" y1="281.61" x2="36.40" y2="281.61" stroke="#1a1a1a" stroke-width="1.15"/>
<line x1="34.60" y1="274.56" x2="36.40" y2="274.56" stroke="#1a1a1a" stroke-width="1.15"/>
<line x1="33.20" y1="267.52" x2="36.40" y2="267.52" stroke="#1a1a1a" stroke-width="1.15"/>
<line x1="34.60" y1="260.48" x2="36.40" y2="260.48" stroke="#1a1a1a" stroke-width="1.15"/>
<line x1="34.60" y1="253.43" x2="36.40" y2="253.43" stroke="#1a1a1a" stroke-width="1.15"/>
<line x1="34.60" y1="246.39" x2="36.40" y2="246.39" stroke="#1a1a1a" stroke-width="1.15"/>
<line x1="34.60" y1="239.34" x2="36.40" y2="239.34" stroke="#1a1a1a" stroke-width="1.15"/>
<line x1="33.20" y1="232.30" x2="36.40" y2="232.30" stroke="#1a1a1a" stroke-width="1.15"/>
<line x1="36.10" y1="408.40" x2="36.10" y2="410.20" stroke="#1a1a1a" stroke-width="1.15"/>
<line x1="58.10" y1="408.40" x2="58.10" y2="410.20" stroke="#1a1a1a" stroke-width="1.15"/>
<line x1="80.10" y1="408.40" x2="80.10" y2="411.60" stroke="#1a1a1a" stroke-width="1.15"/>
<line x1="102.10" y1="408.40" x2="102.10" y2="410.20" stroke="#1a1a1a" stroke-width="1.15"/>
<line x1="124.10" y1="408.40" x2="124.10" y2="410.20" stroke="#1a1a1a" stroke-width="1.15"/>
<line x1="146.10" y1="408.40" x2="146.10" y2="410.20" stroke="#1a1a1a" stroke-width="1.15"/>
<line x1="168.10" y1="408.40" x2="168.10" y2="411.60" stroke="#1a1a1a" stroke-width="1.15"/>
<line x1="190.10" y1="408.40" x2="190.10" y2="410.20" stroke="#1a1a1a" stroke-width="1.15"/>
<line x1="212.10" y1="408.40" x2="212.10" y2="410.20" stroke="#1a1a1a" stroke-width="1.15"/>
<line x1="234.10" y1="408.40" x2="234.10" y2="410.20" stroke="#1a1a1a" stroke-width="1.15"/>
<line x1="256.10" y1="408.40" x2="256.10" y2="411.60" stroke="#1a1a1a" stroke-width="1.15"/>
<text x="24.29" y="411.80" font-size="13" textLength="7.21" lengthAdjust="spacingAndGlyphs" fill="#000" stroke="#000" stroke-width="0.22" >0</text>
<text x="23.70" y="376.58" font-size="13" textLength="8.00" lengthAdjust="spacingAndGlyphs" fill="#000" stroke="#000" stroke-width="0.22" >1</text>
<text x="24.12" y="341.36" font-size="13" textLength="7.57" lengthAdjust="spacingAndGlyphs" fill="#000" stroke="#000" stroke-width="0.22" >2</text>
<text x="24.30" y="306.14" font-size="13" textLength="7.27" lengthAdjust="spacingAndGlyphs" fill="#000" stroke="#000" stroke-width="0.22" >3</text>
<text x="24.52" y="270.92" font-size="13" textLength="6.84" lengthAdjust="spacingAndGlyphs" fill="#000" stroke="#000" stroke-width="0.22" >4</text>
<text x="24.28" y="235.70" font-size="13" textLength="7.27" lengthAdjust="spacingAndGlyphs" fill="#000" stroke="#000" stroke-width="0.22" >5</text>
<text x="76.81" y="424.00" font-size="13.5" textLength="6.98" lengthAdjust="spacingAndGlyphs" fill="#000" stroke="#000" stroke-width="0.22" >0</text>
<text x="158.61" y="424.00" font-size="13.5" textLength="19.21" lengthAdjust="spacingAndGlyphs" fill="#000" stroke="#000" stroke-width="0.22" >-20</text>
<text x="246.61" y="424.00" font-size="13.5" textLength="19.10" lengthAdjust="spacingAndGlyphs" fill="#000" stroke="#000" stroke-width="0.22" >-40</text>
<text x="115.15" y="440.40" font-size="15" textLength="47.52" lengthAdjust="spacingAndGlyphs" fill="#000" stroke="#000" stroke-width="0.22" >E(meV)</text>
<text transform="translate(11.50,427.04) rotate(-90)" x="0" y="0" font-size="16" textLength="216.07" lengthAdjust="spacingAndGlyphs" fill="#000" stroke="#000" stroke-width="0.22" >Difference S(Q,E)(LowQ-HighQ)</text>
<text x="107.99" y="256.60" font-size="14.5" textLength="35.39" lengthAdjust="spacingAndGlyphs" fill="#000" stroke="#000" stroke-width="0.22" >YCrO</text>
<text x="143.05" y="262.60" font-size="9.5" textLength="5.04" lengthAdjust="spacingAndGlyphs" fill="#000" >3</text>
<text x="189.38" y="287.30" font-size="14.5" textLength="47.55" lengthAdjust="spacingAndGlyphs" fill="#000" stroke="#000" stroke-width="0.22" >G-Type</text>
<text x="207.22" y="326.70" font-size="14.5" textLength="37.04" lengthAdjust="spacingAndGlyphs" fill="#000" stroke="#000" stroke-width="0.22" >100 K</text>
<text x="233.21" y="252.30" font-size="14.5" textLength="17.47" lengthAdjust="spacingAndGlyphs" fill="#000" stroke="#000" stroke-width="0.22" >(b)</text>
<path d="M317.50,231.48 L318.89,231.51 L320.29,231.60 L321.69,231.75 L323.08,231.96 L324.48,232.22 L325.87,232.55 L327.26,232.93 L328.66,233.37 L330.06,233.87 L331.45,234.42 L332.85,235.03 L334.24,235.69 L335.63,236.41 L337.03,237.18 L338.43,238.01 L339.82,238.88 L341.21,239.81 L342.61,240.79 L344.00,241.81 L345.40,242.88 L346.80,244.00 L348.19,245.16 L349.58,246.37 L350.98,247.62 L352.38,248.91 L353.77,250.23 L355.17,251.60 L356.56,253.00 L357.95,254.44 L359.35,255.91 L360.75,257.42 L362.14,258.95 L363.54,260.51 L364.93,262.10 L366.32,263.72 L367.72,265.36 L369.12,267.03 L370.51,268.71 L371.90,270.42 L373.30,272.14 L374.69,273.88 L376.09,275.63 L377.49,277.40 L378.88,279.18 L380.27,280.98 L381.67,282.78 L383.06,284.59 L384.46,286.40 L385.86,288.23 L387.25,290.05 L388.64,291.88 L390.04,293.71 L391.44,295.54 L392.83,297.37 L394.23,299.19 L395.62,301.02 L397.01,302.84 L398.41,304.65 L399.81,306.46 L401.20,308.26 L402.60,310.05 L403.99,311.83 L405.38,313.60 L406.78,315.36 L408.18,317.11 L409.57,318.85 L410.97,320.57 L412.36,322.28 L413.75,323.98 L415.15,325.66 L416.55,327.32 L417.94,328.97 L419.34,330.60 L420.73,332.21 L422.12,333.81 L423.52,335.39 L424.91,336.95 L426.31,338.49 L427.70,340.01 L429.10,341.52 L430.50,343.00 L431.89,344.47 L433.29,345.91 L434.68,347.34 L436.07,348.74 L437.47,350.12 L438.87,351.49 L440.26,352.83 L441.65,354.15 L443.05,355.46 L444.44,356.74 L445.84,358.00 L447.24,359.24 L448.63,360.46 L450.02,361.66 L451.42,362.84 L452.81,364.00 L454.21,365.14 L455.61,366.26 L457.00,367.36 L458.39,368.45 L459.79,369.51 L461.19,370.55 L462.58,371.57 L463.98,372.58 L465.37,373.56 L466.76,374.53 L468.16,375.48 L469.56,376.41 L470.95,377.32 L472.35,378.21 L473.74,379.09 L475.13,379.95 L476.53,380.79 L477.92,381.61 L479.32,382.42 L480.72,383.21 L482.11,383.99 L483.50,384.74 L484.90,385.49 L486.30,386.21 L487.69,386.92 L489.09,387.62 L490.48,388.30 L491.88,388.97 L493.27,389.62 L494.66,390.26 L496.06,390.88 L497.45,391.49 L498.85,392.08 L500.25,392.67 L501.64,393.24 L503.03,393.79 L504.43,394.33 L505.82,394.86 L507.22,395.38 L508.62,395.89 L510.01,396.38 L511.40,396.86 L512.80,397.33 L514.20,397.79 L515.59,398.24 L516.99,398.67 L518.38,399.10 L519.77,399.51 L521.17,399.91 L522.57,400.31 L523.96,400.69 L525.36,401.06 L526.75,401.43 L528.14,401.78 L529.54,402.13 L530.93,402.46 L532.33,402.79 L533.73,403.11 L535.12,403.42 L536.51,403.72 L537.91,404.01 L539.31,404.29 L540.70,404.57" stroke="#000" stroke-width="1.2" fill="none"/>
<circle cx="366.32" cy="265.99" r="2.0" fill="#fff" stroke="#000" stroke-width="1.1"/>
<circle cx="408.45" cy="308.49" r="2.0" fill="#fff" stroke="#000" stroke-width="1.1"/>
<circle cx="450.30" cy="346.36" r="2.0" fill="#fff" stroke="#000" stroke-width="1.1"/>
<circle cx="492.15" cy="358.98" r="2.0" fill="#fff" stroke="#000" stroke-width="1.1"/>
<rect x="317.5" y="231.5" width="223.20" height="177.80" fill="none" stroke="#1a1a1a" stroke-width="1.2"/>
<line x1="314.30" y1="409.30" x2="317.50" y2="409.30" stroke="#1a1a1a" stroke-width="1.15"/>
<line x1="315.70" y1="391.52" x2="317.50" y2="391.52" stroke="#1a1a1a" stroke-width="1.15"/>
<line x1="314.30" y1="373.74" x2="317.50" y2="373.74" stroke="#1a1a1a" stroke-width="1.15"/>
<line x1="315.70" y1="355.96" x2="317.50" y2="355.96" stroke="#1a1a1a" stroke-width="1.15"/>
<line x1="314.30" y1="338.18" x2="317.50" y2="338.18" stroke="#1a1a1a" stroke-width="1.15"/>
<line x1="315.70" y1="320.40" x2="317.50" y2="320.40" stroke="#1a1a1a" stroke-width="1.15"/>
<line x1="314.30" y1="302.62" x2="317.50" y2="302.62" stroke="#1a1a1a" stroke-width="1.15"/>
<line x1="315.70" y1="284.84" x2="317.50" y2="284.84" stroke="#1a1a1a" stroke-width="1.15"/>
<line x1="314.30" y1="267.06" x2="317.50" y2="267.06" stroke="#1a1a1a" stroke-width="1.15"/>
<line x1="315.70" y1="249.28" x2="317.50" y2="249.28" stroke="#1a1a1a" stroke-width="1.15"/>
<line x1="314.30" y1="231.50" x2="317.50" y2="231.50" stroke="#1a1a1a" stroke-width="1.15"/>
<line x1="317.50" y1="409.30" x2="317.50" y2="412.30" stroke="#1a1a1a" stroke-width="1.15"/>
<line x1="328.66" y1="409.30" x2="328.66" y2="411.10" stroke="#1a1a1a" stroke-width="1.15"/>
<line x1="339.82" y1="409.30" x2="339.82" y2="411.10" stroke="#1a1a1a" stroke-width="1.15"/>
<line x1="350.98" y1="409.30" x2="350.98" y2="411.10" stroke="#1a1a1a" stroke-width="1.15"/>
<line x1="362.14" y1="409.30" x2="362.14" y2="411.10" stroke="#1a1a1a" stroke-width="1.15"/>
<line x1="373.30" y1="409.30" x2="373.30" y2="412.30" stroke="#1a1a1a" stroke-width="1.15"/>
<line x1="384.46" y1="409.30" x2="384.46" y2="411.10" stroke="#1a1a1a" stroke-width="1.15"/>
<line x1="395.62" y1="409.30" x2="395.62" y2="411.10" stroke="#1a1a1a" stroke-width="1.15"/>
<line x1="406.78" y1="409.30" x2="406.78" y2="411.10" stroke="#1a1a1a" stroke-width="1.15"/>
<line x1="417.94" y1="409.30" x2="417.94" y2="411.10" stroke="#1a1a1a" stroke-width="1.15"/>
<line x1="429.10" y1="409.30" x2="429.10" y2="412.30" stroke="#1a1a1a" stroke-width="1.15"/>
<line x1="440.26" y1="409.30" x2="440.26" y2="411.10" stroke="#1a1a1a" stroke-width="1.15"/>
<line x1="451.42" y1="409.30" x2="451.42" y2="411.10" stroke="#1a1a1a" stroke-width="1.15"/>
<line x1="462.58" y1="409.30" x2="462.58" y2="411.10" stroke="#1a1a1a" stroke-width="1.15"/>
<line x1="473.74" y1="409.30" x2="473.74" y2="411.10" stroke="#1a1a1a" stroke-width="1.15"/>
<line x1="484.90" y1="409.30" x2="484.90" y2="412.30" stroke="#1a1a1a" stroke-width="1.15"/>
<line x1="496.06" y1="409.30" x2="496.06" y2="411.10" stroke="#1a1a1a" stroke-width="1.15"/>
<line x1="507.22" y1="409.30" x2="507.22" y2="411.10" stroke="#1a1a1a" stroke-width="1.15"/>
<line x1="518.38" y1="409.30" x2="518.38" y2="411.10" stroke="#1a1a1a" stroke-width="1.15"/>
<line x1="529.54" y1="409.30" x2="529.54" y2="411.10" stroke="#1a1a1a" stroke-width="1.15"/>
<line x1="540.70" y1="409.30" x2="540.70" y2="412.30" stroke="#1a1a1a" stroke-width="1.15"/>
<text x="294.89" y="412.90" font-size="13" textLength="18.01" lengthAdjust="spacingAndGlyphs" fill="#000" stroke="#000" stroke-width="0.22" >0.0</text>
<text x="294.89" y="377.34" font-size="13" textLength="18.17" lengthAdjust="spacingAndGlyphs" fill="#000" stroke="#000" stroke-width="0.22" >0.2</text>
<text x="294.90" y="341.78" font-size="13" textLength="17.88" lengthAdjust="spacingAndGlyphs" fill="#000" stroke="#000" stroke-width="0.22" >0.4</text>
<text x="294.89" y="306.22" font-size="13" textLength="18.08" lengthAdjust="spacingAndGlyphs" fill="#000" stroke="#000" stroke-width="0.22" >0.6</text>
<text x="294.89" y="270.66" font-size="13" textLength="18.07" lengthAdjust="spacingAndGlyphs" fill="#000" stroke="#000" stroke-width="0.22" >0.8</text>
<text x="294.38" y="235.10" font-size="13" textLength="18.54" lengthAdjust="spacingAndGlyphs" fill="#000" stroke="#000" stroke-width="0.22" >1.0</text>
<text x="313.89" y="424.60" font-size="13" textLength="7.23" lengthAdjust="spacingAndGlyphs" fill="#000" stroke="#000" stroke-width="0.22" >0</text>
<text x="369.69" y="424.60" font-size="13" textLength="7.23" lengthAdjust="spacingAndGlyphs" fill="#000" stroke="#000" stroke-width="0.22" >2</text>
<text x="425.53" y="424.60" font-size="13" textLength="7.23" lengthAdjust="spacingAndGlyphs" fill="#000" stroke="#000" stroke-width="0.22" >4</text>
<text x="481.24" y="424.60" font-size="13" textLength="7.23" lengthAdjust="spacingAndGlyphs" fill="#000" stroke="#000" stroke-width="0.22" >6</text>
<text x="537.09" y="424.60" font-size="13" textLength="7.23" lengthAdjust="spacingAndGlyphs" fill="#000" stroke="#000" stroke-width="0.22" >8</text>
<text transform="translate(282.20,381.59) rotate(-90)" x="0" y="0" font-size="15" textLength="128.53" lengthAdjust="spacingAndGlyphs" fill="#000" stroke="#000" stroke-width="0.22" >Intensity (arb units)</text>
<text x="404.57" y="439.90" font-size="15" textLength="14.81" lengthAdjust="spacingAndGlyphs" fill="#000" stroke="#000" stroke-width="0.22" >Q(</text>
<text x="421.17" y="439.90" font-size="15" textLength="8.95" lengthAdjust="spacingAndGlyphs" fill="#000" stroke="#000" stroke-width="0.22" >Ǎ</text>
<text x="430.70" y="432.60" font-size="7.5" textLength="6.03" lengthAdjust="spacingAndGlyphs" fill="#000" >-1</text>
<text x="438.23" y="439.90" font-size="15" textLength="3.77" lengthAdjust="spacingAndGlyphs" fill="#000" stroke="#000" stroke-width="0.22" >)</text>
<text x="327.08" y="287.50" font-size="14.5" textLength="36.31" lengthAdjust="spacingAndGlyphs" fill="#000" stroke="#000" stroke-width="0.22" >YCrO</text>
<text x="363.05" y="293.50" font-size="9.5" textLength="5.04" lengthAdjust="spacingAndGlyphs" fill="#000" >3</text>
<text x="332.21" y="345.80" font-size="14.5" textLength="37.25" lengthAdjust="spacingAndGlyphs" fill="#000" stroke="#000" stroke-width="0.22" >100 K</text>
<text x="516.22" y="247.20" font-size="14.5" textLength="16.56" lengthAdjust="spacingAndGlyphs" fill="#000" stroke="#000" stroke-width="0.22" >(c)</text>
<circle cx="404.1" cy="257.9" r="4.9" fill="none" stroke="#000" stroke-width="1.7"/>
<line x1="392.00" y1="284.60" x2="416.20" y2="284.60" stroke="#000" stroke-width="1.3"/>
<text x="419.36" y="261.50" font-size="10.3" textLength="112.30" lengthAdjust="spacingAndGlyphs" fill="#000" >Peak intensity integrated</text>
<text x="418.97" y="274.70" font-size="10.3" textLength="84.08" lengthAdjust="spacingAndGlyphs" fill="#000" >over 17 to 22 meV</text>
<text x="419.28" y="288.70" font-size="10.3" textLength="117.21" lengthAdjust="spacingAndGlyphs" fill="#000" >Calculated magnetic form</text>
<text x="422.05" y="304.40" font-size="10.3" textLength="54.92" lengthAdjust="spacingAndGlyphs" fill="#000" >factor for Cr</text>
<text x="477.18" y="298.90" font-size="7" textLength="6.50" lengthAdjust="spacingAndGlyphs" fill="#000" >3+</text>
</g>
</svg>
</body></html>
